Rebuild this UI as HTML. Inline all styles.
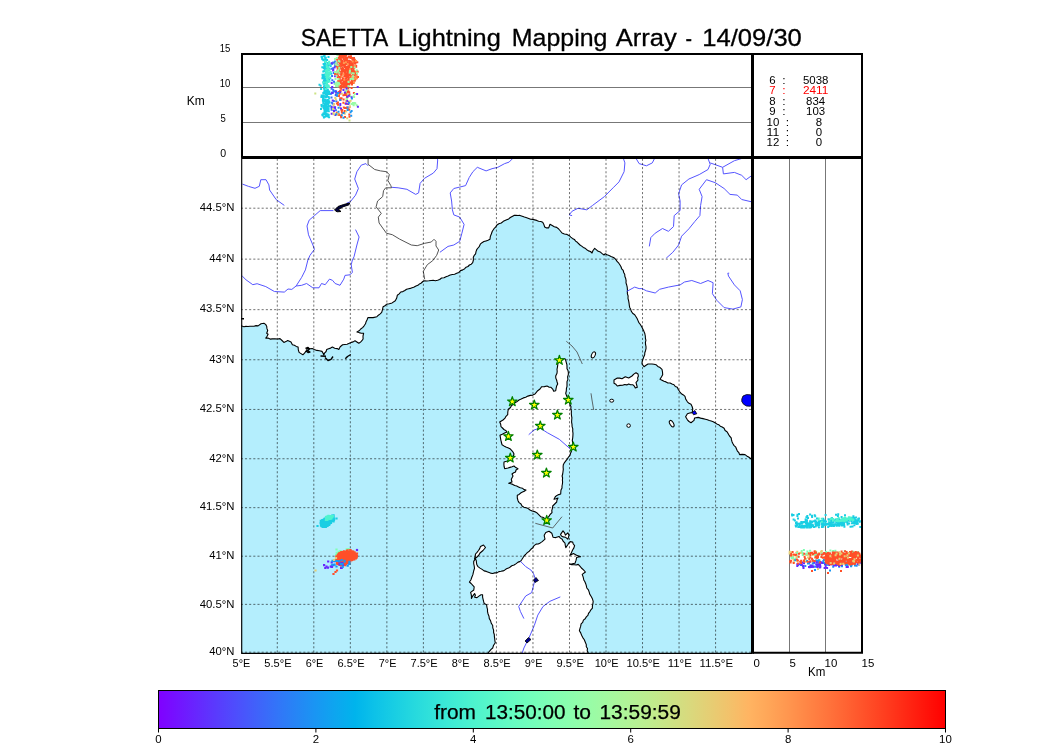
<!DOCTYPE html><html><head><meta charset="utf-8"><style>html,body{margin:0;padding:0;background:#fff;overflow:hidden}svg{display:block;will-change:transform}</style></head><body><svg width="1050" height="750" viewBox="0 0 1050 750"><text x="300.85" y="46.00" font-size="23.9" fill="#000" stroke="#000" stroke-width="0.3" font-family="Liberation Sans, sans-serif" textLength="87.31" lengthAdjust="spacingAndGlyphs">SAETTA</text><text x="397.85" y="46.00" font-size="23.9" fill="#000" stroke="#000" stroke-width="0.3" font-family="Liberation Sans, sans-serif" textLength="103.00" lengthAdjust="spacingAndGlyphs">Lightning</text><text x="511.85" y="46.00" font-size="23.9" fill="#000" stroke="#000" stroke-width="0.3" font-family="Liberation Sans, sans-serif" textLength="95.60" lengthAdjust="spacingAndGlyphs">Mapping</text><text x="615.85" y="46.00" font-size="23.9" fill="#000" stroke="#000" stroke-width="0.3" font-family="Liberation Sans, sans-serif" textLength="61.00" lengthAdjust="spacingAndGlyphs">Array</text><text x="685.55" y="46.00" font-size="23.9" fill="#000" stroke="#000" stroke-width="0.3" font-family="Liberation Sans, sans-serif" textLength="6.50" lengthAdjust="spacingAndGlyphs">-</text><text x="702.35" y="46.00" font-size="23.9" fill="#000" stroke="#000" stroke-width="0.3" font-family="Liberation Sans, sans-serif" textLength="99.49" lengthAdjust="spacingAndGlyphs">14/09/30</text><svg x="241.0" y="157.0" width="511.0" height="496.4" viewBox="241.0 157.0 511.0 496.4" overflow="hidden"><rect x="241.0" y="157.0" width="511.0" height="496.4" fill="#b4eefd"/><polygon points="241.0,325.7 243.9,326.7 245.9,326.4 248.0,326.5 250.0,326.2 252.0,326.3 254.0,326.2 256.0,325.6 258.1,325.9 261.0,323.8 263.9,323.3 265.6,324.4 266.7,326.2 266.9,328.4 267.7,330.5 266.7,333.3 268.1,334.3 267.1,336.3 265.8,338.1 268.0,338.1 270.1,339.1 272.4,338.9 274.9,338.8 277.5,339.0 280.0,338.6 282.0,340.5 283.9,342.4 285.9,341.6 287.7,340.5 291.0,341.9 292.4,344.8 294.4,345.3 296.2,346.4 298.1,347.1 298.3,349.8 299.1,352.4 301.0,353.6 302.9,354.8 304.5,353.2 305.8,351.4 307.7,348.1 309.9,348.7 312.2,348.6 314.3,349.5 316.8,350.4 319.4,350.8 322.0,351.4 323.1,353.2 323.9,355.2 324.5,353.1 326.1,351.5 326.7,349.5 328.6,348.7 330.6,348.1 332.4,347.1 334.7,348.2 337.2,348.6 338.8,349.5 340.2,346.7 342.6,344.8 344.9,344.5 347.1,344.2 349.3,343.3 351.2,342.4 353.2,341.9 355.0,340.8 356.9,342.0 358.8,343.3 360.5,342.1 361.9,340.7 363.1,339.0 363.0,336.1 363.6,333.3 361.3,333.2 359.1,332.6 356.9,331.9 359.1,330.8 360.7,329.0 362.6,327.6 364.1,325.8 365.5,323.8 366.1,321.7 367.1,319.7 367.9,317.6 370.5,317.5 373.1,317.6 376.9,316.7 378.4,315.2 380.2,313.9 381.7,312.4 382.5,309.6 383.1,306.7 385.0,305.8 386.4,304.3 389.3,303.8 392.1,302.9 395.3,300.7 396.7,298.1 397.3,295.3 399.2,293.9 400.7,292.0 402.9,291.6 404.8,290.5 406.6,289.2 408.7,288.7 411.2,288.1 413.7,287.3 416.0,286.0 417.9,285.3 419.5,283.9 421.3,283.0 422.8,281.5 424.7,280.7 426.8,281.0 428.9,280.8 431.1,280.5 433.2,280.3 435.3,280.7 437.6,280.2 439.7,279.5 441.6,278.0 444.0,277.8 446.0,276.7 448.1,275.9 450.2,275.0 452.4,274.5 454.6,274.2 456.7,273.3 458.9,272.4 460.5,270.6 462.8,269.9 464.7,268.7 466.1,267.2 468.0,266.5 469.4,265.0 471.3,264.2 472.7,262.7 473.4,260.0 473.3,257.3 474.2,255.4 475.6,253.8 476.0,251.6 476.7,249.7 478.0,248.0 479.4,246.3 480.3,244.2 482.0,242.7 483.9,241.6 486.0,240.9 488.0,240.2 490.0,239.3 490.3,236.6 491.3,234.0 492.3,231.2 494.0,228.7 495.6,227.2 496.7,225.3 498.8,223.8 501.3,223.0 503.3,221.3 506.7,219.7 508.7,218.9 510.3,217.5 512.2,216.4 514.0,215.4 516.0,215.4 518.0,215.5 520.0,215.4 522.2,216.2 524.4,217.0 526.7,217.7 528.7,218.4 530.6,219.2 532.7,219.4 534.7,219.9 536.7,220.4 538.6,221.3 540.8,221.5 542.7,222.3 543.9,224.6 544.7,227.0 546.6,227.9 548.7,227.9 550.0,224.3 552.2,225.5 554.3,226.7 556.7,227.4 558.7,229.0 560.4,231.0 562.0,233.0 564.4,234.0 567.0,234.4 569.3,235.7 570.8,237.1 572.4,238.4 574.4,239.4 575.6,241.1 577.3,242.3 580.0,245.0 581.7,246.1 583.3,247.4 585.2,248.3 586.8,249.7 588.5,250.9 590.5,251.5 592.0,253.0 593.0,250.5 594.7,248.3 596.5,249.8 598.2,251.3 600.4,252.1 602.2,253.6 604.0,255.0 605.3,253.7 607.1,254.7 609.1,255.4 611.0,256.4 612.9,257.2 614.7,258.3 616.1,259.9 617.3,261.7 618.8,263.2 620.0,265.0 621.0,266.8 621.7,268.8 623.2,270.4 623.7,272.5 624.7,274.3 624.9,276.5 625.7,278.5 626.1,280.7 626.0,282.9 626.7,285.0 627.2,287.2 627.4,289.4 627.4,291.6 627.4,293.9 628.1,296.0 628.0,298.3 628.6,300.6 629.0,302.9 629.3,305.3 629.7,307.4 630.7,309.3 631.3,311.3 632.6,313.3 634.7,314.7 636.0,316.7 637.1,318.5 637.9,320.4 638.7,322.3 640.0,324.0 641.4,326.3 642.7,328.7 643.8,331.1 644.8,333.5 645.3,336.0 645.4,338.1 645.9,340.3 645.4,342.4 645.6,344.6 646.0,346.7 646.0,348.7 645.5,350.7 644.8,352.7 644.7,354.7 643.6,357.3 642.7,360.0 642.1,362.0 642.0,364.0 644.0,366.7 646.0,365.3 648.0,364.0 650.0,364.0 652.0,364.0 654.0,364.3 656.0,364.7 657.8,366.4 660.1,367.6 662.0,369.3 662.5,372.0 662.7,374.7 661.4,377.0 660.0,379.3 662.0,380.2 664.0,381.3 666.0,381.9 667.9,383.0 670.1,383.0 672.0,384.0 674.0,384.7 675.3,386.5 677.3,387.3 678.4,389.8 680.0,392.0 681.4,393.8 683.4,394.9 685.0,396.4 685.8,399.3 687.4,401.8 689.0,403.3 691.0,404.2 692.1,406.5 692.8,409.0 692.2,412.6 689.7,413.0 687.4,413.8 685.6,416.8 687.4,419.8 689.0,421.5 691.0,422.8 694.0,420.4 694.6,418.0 698.2,417.4 700.6,418.1 703.0,418.6 705.4,419.2 707.4,419.7 709.3,420.5 711.2,421.1 713.2,421.7 715.0,422.8 716.8,423.9 718.7,424.7 720.3,426.2 722.2,427.0 724.1,428.3 725.1,430.5 727.0,431.8 728.3,433.9 729.5,436.0 731.2,437.8 731.5,439.9 732.1,441.9 733.0,443.8 734.1,445.6 735.8,447.2 736.6,449.2 737.4,451.1 738.9,452.7 739.6,454.6 742.3,454.4 745.0,454.6 746.7,455.9 748.6,457.0 750.3,458.3 752.0,459.6 754.0,459.5 756.0,460.0 758.0,459.7 760.0,459.6 759.9,457.6 759.8,455.6 760.3,453.6 760.0,451.6 760.3,449.5 759.9,447.5 759.7,445.5 760.0,443.5 760.3,441.5 759.7,439.5 760.3,437.5 760.4,435.5 760.3,433.5 760.3,431.5 759.6,429.4 760.1,427.4 760.3,425.4 759.6,423.4 759.8,421.4 759.8,419.4 760.0,417.4 759.9,415.4 760.0,413.4 760.2,411.4 759.6,409.3 759.6,407.3 759.7,405.3 759.7,403.3 759.6,401.3 760.4,399.3 760.3,397.3 759.6,395.3 760.0,393.3 759.8,391.2 759.8,389.2 759.9,387.2 760.1,385.2 760.1,383.2 759.9,381.2 759.7,379.2 759.8,377.2 759.7,375.2 760.0,373.2 760.2,371.1 759.9,369.1 759.6,367.1 759.7,365.1 759.9,363.1 760.1,361.1 760.3,359.1 759.9,357.1 760.3,355.1 760.1,353.0 759.9,351.0 759.9,349.0 760.0,347.0 760.2,345.0 759.9,343.0 760.2,341.0 760.0,339.0 759.8,337.0 760.0,335.0 760.2,332.9 759.6,330.9 759.9,328.9 759.9,326.9 760.3,324.9 760.4,322.9 759.9,320.9 760.4,318.9 760.3,316.9 759.8,314.9 760.0,312.8 759.7,310.8 760.3,308.8 760.1,306.8 760.3,304.8 760.3,302.8 760.2,300.8 760.2,298.8 760.1,296.8 759.6,294.7 760.1,292.7 759.6,290.7 759.7,288.7 760.2,286.7 759.6,284.7 759.6,282.7 759.6,280.7 760.3,278.7 759.7,276.7 759.6,274.6 760.3,272.6 759.7,270.6 760.3,268.6 760.2,266.6 760.3,264.6 760.4,262.6 760.1,260.6 760.3,258.6 759.6,256.6 760.2,254.5 760.0,252.5 760.2,250.5 759.6,248.5 760.2,246.5 760.4,244.5 759.6,242.5 759.8,240.5 760.1,238.5 760.3,236.4 759.8,234.4 759.7,232.4 759.8,230.4 760.1,228.4 760.2,226.4 759.9,224.4 759.9,222.4 759.9,220.4 759.9,218.4 759.9,216.3 759.6,214.3 760.0,212.3 760.4,210.3 759.9,208.3 760.2,206.3 759.7,204.3 760.2,202.3 760.2,200.3 760.2,198.2 760.0,196.2 760.0,194.2 760.1,192.2 760.4,190.2 759.7,188.2 759.6,186.2 760.2,184.2 760.4,182.2 760.0,180.2 759.9,178.1 760.2,176.1 759.7,174.1 759.8,172.1 759.7,170.1 760.1,168.1 759.8,166.1 759.8,164.1 760.2,162.1 760.4,160.1 759.8,158.0 760.2,156.0 759.9,154.0 760.3,152.0 760.0,150.0 758.0,149.9 756.0,150.2 754.0,150.3 752.0,150.4 750.0,150.0 748.0,150.1 746.0,150.3 744.0,150.1 742.0,150.2 740.0,149.8 738.0,150.3 736.0,149.6 734.0,150.0 731.9,149.9 729.9,150.0 727.9,149.7 725.9,149.7 723.9,149.9 721.9,150.0 719.9,149.8 717.9,149.7 715.9,150.1 713.9,149.8 711.9,149.6 709.9,150.0 707.9,150.2 705.9,150.2 703.9,149.8 701.9,149.8 699.9,149.6 697.9,149.7 695.9,150.2 693.9,150.3 691.9,150.2 689.9,150.3 687.9,149.8 685.9,149.7 683.9,149.6 681.9,150.2 679.8,149.7 677.8,150.2 675.8,150.1 673.8,149.8 671.8,150.4 669.8,150.4 667.8,149.7 665.8,150.2 663.8,150.1 661.8,149.9 659.8,149.8 657.8,150.4 655.8,150.1 653.8,150.1 651.8,150.0 649.8,150.3 647.8,149.9 645.8,149.6 643.8,150.1 641.8,150.0 639.8,150.3 637.8,150.2 635.8,149.9 633.8,150.3 631.8,149.7 629.8,149.6 627.7,150.4 625.7,149.6 623.7,150.1 621.7,149.8 619.7,149.8 617.7,150.2 615.7,149.8 613.7,149.9 611.7,149.7 609.7,150.2 607.7,149.8 605.7,149.6 603.7,149.8 601.7,150.0 599.7,150.3 597.7,150.0 595.7,150.1 593.7,149.8 591.7,149.8 589.7,149.9 587.7,150.3 585.7,149.9 583.7,149.9 581.7,150.3 579.7,149.6 577.7,149.9 575.6,150.3 573.6,149.6 571.6,150.3 569.6,150.2 567.6,149.8 565.6,149.9 563.6,150.0 561.6,149.9 559.6,150.0 557.6,150.2 555.6,150.3 553.6,150.4 551.6,149.8 549.6,149.8 547.6,150.0 545.6,149.8 543.6,150.1 541.6,150.2 539.6,150.1 537.6,149.7 535.6,150.4 533.6,150.0 531.6,150.2 529.6,149.8 527.6,150.1 525.6,150.2 523.5,150.1 521.5,150.0 519.5,149.8 517.5,150.1 515.5,149.7 513.5,150.3 511.5,150.2 509.5,150.4 507.5,150.3 505.5,149.7 503.5,149.8 501.5,150.3 499.5,150.3 497.5,150.1 495.5,149.8 493.5,149.7 491.5,149.8 489.5,149.9 487.5,150.3 485.5,150.1 483.5,150.3 481.5,150.0 479.5,149.9 477.5,150.3 475.5,150.2 473.5,149.7 471.5,150.4 469.4,149.7 467.4,149.6 465.4,149.6 463.4,150.1 461.4,150.0 459.4,149.9 457.4,149.9 455.4,149.6 453.4,149.8 451.4,150.2 449.4,149.7 447.4,150.0 445.4,149.9 443.4,149.8 441.4,150.4 439.4,149.8 437.4,149.9 435.4,150.0 433.4,150.0 431.4,150.0 429.4,150.3 427.4,150.0 425.4,150.4 423.4,150.0 421.4,149.9 419.4,150.1 417.3,149.9 415.3,149.6 413.3,149.6 411.3,150.3 409.3,149.7 407.3,149.9 405.3,150.4 403.3,150.1 401.3,150.2 399.3,150.4 397.3,150.0 395.3,149.6 393.3,150.2 391.3,149.7 389.3,149.8 387.3,150.3 385.3,149.7 383.3,149.9 381.3,149.6 379.3,149.8 377.3,149.8 375.3,150.1 373.3,149.7 371.3,149.6 369.3,149.7 367.3,150.1 365.2,149.8 363.2,150.0 361.2,150.4 359.2,150.4 357.2,150.4 355.2,150.3 353.2,150.3 351.2,150.0 349.2,149.8 347.2,150.0 345.2,150.1 343.2,149.9 341.2,150.2 339.2,150.0 337.2,149.8 335.2,150.1 333.2,150.3 331.2,149.6 329.2,149.8 327.2,150.1 325.2,150.1 323.2,150.0 321.2,149.9 319.2,150.2 317.2,150.4 315.2,150.3 313.1,149.7 311.1,150.3 309.1,150.0 307.1,150.3 305.1,150.3 303.1,150.3 301.1,150.1 299.1,150.3 297.1,150.4 295.1,150.4 293.1,150.3 291.1,150.0 289.1,150.4 287.1,150.4 285.1,150.0 283.1,150.1 281.1,149.8 279.1,150.4 277.1,150.1 275.1,150.1 273.1,150.4 271.1,149.6 269.1,150.3 267.1,150.4 265.1,150.0 263.1,150.3 261.0,149.9 259.0,150.1 257.0,150.3 255.0,150.4 253.0,149.8 251.0,150.2 249.0,149.7 247.0,150.0 245.0,149.6 243.0,150.2 241.0,150.2 239.0,150.2 237.0,149.7 235.0,150.0 234.9,152.0 235.1,154.0 235.4,156.1 234.8,158.1 234.6,160.1 234.9,162.1 235.4,164.1 235.4,166.2 235.4,168.2 235.3,170.2 235.4,172.2 235.4,174.2 234.9,176.3 234.6,178.3 235.3,180.3 234.6,182.3 235.0,184.3 234.7,186.4 234.6,188.4 234.6,190.4 235.4,192.4 235.2,194.4 234.9,196.4 234.6,198.5 235.4,200.5 235.2,202.5 234.7,204.5 235.3,206.5 235.1,208.6 235.1,210.6 234.8,212.6 234.6,214.6 235.3,216.6 234.8,218.7 234.8,220.7 234.7,222.7 235.0,224.7 234.6,226.7 235.1,228.8 235.1,230.8 235.2,232.8 234.7,234.8 235.0,236.8 235.2,238.9 235.3,240.9 234.8,242.9 234.9,244.9 234.8,246.9 235.1,249.0 235.0,251.0 235.3,253.0 234.8,255.0 235.4,257.0 235.0,259.1 234.8,261.1 234.8,263.1 235.4,265.1 235.2,267.1 234.7,269.2 234.9,271.2 234.7,273.2 234.7,275.2 235.0,277.2 234.6,279.3 234.8,281.3 235.1,283.3 235.1,285.3 235.4,287.3 235.1,289.3 234.6,291.4 235.4,293.4 234.9,295.4 235.4,297.4 235.4,299.4 234.9,301.5 235.2,303.5 235.4,305.5 235.3,307.5 234.9,309.5 234.9,311.6 235.4,313.6 235.2,315.6 234.6,317.6 235.3,319.6 234.9,321.7 235.1,323.7 235.0,325.7 237.0,326.0 239.0,325.8" fill="#fff" stroke="#000" stroke-width="1.1" stroke-linejoin="round"/><polygon points="559.0,358.7 561.0,359.0 563.0,358.7 565.0,358.7 565.8,360.6 566.3,362.6 566.9,364.6 567.0,366.7 567.0,368.7 568.0,370.6 568.4,372.6 568.3,374.7 567.6,377.0 567.9,379.4 567.0,381.6 567.0,384.0 567.0,386.4 566.4,388.7 566.3,391.0 565.7,393.3 566.7,396.1 568.3,398.7 568.9,400.7 569.5,402.7 570.1,404.8 571.0,406.7 570.8,408.9 571.4,411.1 571.3,413.4 571.5,415.6 571.9,417.8 571.7,420.0 571.6,422.2 572.0,424.4 572.1,426.7 572.8,428.8 572.7,431.1 573.0,433.3 572.9,435.7 572.7,438.0 572.3,440.3 572.7,442.7 572.3,445.0 572.0,447.3 571.5,449.3 571.4,451.4 570.5,453.3 570.0,455.3 568.5,457.0 567.4,458.9 566.0,460.7 564.5,462.6 563.3,464.7 563.1,467.0 563.3,469.4 563.0,471.7 562.7,474.0 562.1,476.0 562.6,478.0 562.4,480.0 562.6,482.0 562.4,484.0 562.0,486.0 562.0,488.0 561.0,489.9 560.8,492.0 560.7,494.0 558.7,494.6 556.9,495.4 555.3,496.7 554.0,499.3 556.0,498.7 558.0,498.0 557.0,499.9 556.7,502.0 554.7,504.0 552.7,506.0 552.5,508.2 551.8,510.4 552.0,512.7 550.1,514.5 548.7,516.7 546.0,519.3 543.5,517.6 540.7,516.7 538.7,514.7 536.7,512.7 534.6,511.6 532.2,511.0 530.0,510.0 528.2,508.6 526.2,507.7 523.9,507.2 522.0,506.0 521.0,504.0 519.1,502.6 518.0,500.7 517.3,498.0 517.3,495.3 519.1,494.4 520.7,493.0 522.5,492.1 524.3,491.2 526.0,490.0 524.0,489.6 522.4,488.2 520.3,487.8 518.5,486.9 516.7,486.0 514.7,485.5 512.8,484.4 510.8,483.8 508.7,483.3 512.0,482.0 511.3,479.3 513.0,476.0 512.0,474.0 513.7,472.8 515.5,472.0 516.0,470.0 518.0,468.7 515.8,467.6 514.0,466.0 512.1,466.8 510.0,467.4 508.0,468.0 504.7,468.7 504.1,466.5 503.9,464.3 504.0,462.0 506.5,461.3 508.9,460.4 511.3,459.3 513.0,456.8 514.0,454.0 513.0,452.0 511.6,450.3 510.0,448.7 507.9,447.8 505.9,447.0 503.9,445.9 502.0,444.7 501.3,442.0 500.7,439.3 500.4,437.3 500.0,435.3 502.3,434.2 504.6,433.0 507.0,432.0 505.7,430.4 503.9,429.5 502.5,428.0 501.0,426.7 500.7,424.3 499.7,422.0 503.0,420.0 504.8,418.4 506.0,416.3 507.7,414.7 507.8,412.0 508.3,409.3 510.3,407.7 511.6,405.5 513.7,404.0 515.3,402.4 517.3,401.4 519.0,400.0 521.2,399.1 523.4,397.9 525.7,397.3 527.9,396.1 530.3,395.4 532.8,395.1 535.0,394.0 536.3,392.3 537.7,390.7 540.0,389.0 541.7,386.7 544.4,386.6 547.0,386.0 548.9,387.1 551.0,387.3 552.7,389.1 553.7,391.3 555.7,390.7 556.1,388.4 556.6,386.1 557.7,384.0 557.1,382.0 556.6,380.0 555.8,378.1 555.7,376.0 557.0,373.3 557.2,371.3 557.0,369.3 557.4,367.3 557.7,365.3 557.9,363.1 558.8,361.0" fill="#fff" stroke="#000" stroke-width="1.1" stroke-linejoin="round"/><polygon points="488.4,652.5 489.8,650.9 491.1,649.4 492.7,648.0 493.6,645.2 495.3,642.8 494.9,640.8 494.7,638.7 494.4,636.6 494.3,634.5 493.6,632.5 493.6,630.1 492.8,627.9 492.7,625.5 491.3,623.3 490.6,620.8 489.3,618.6 489.0,616.2 488.1,614.0 487.5,611.7 487.5,609.4 486.9,607.1 486.6,604.8 484.2,603.6 483.6,601.4 483.1,599.3 482.6,597.1 482.6,594.8 481.0,594.8 478.9,596.1 477.0,597.6 474.6,597.2 475.4,595.2 474.6,593.6 473.0,595.6 471.4,598.4 471.5,596.4 471.2,594.4 470.6,592.4 473.8,590.0 474.2,586.8 472.6,585.2 471.1,583.5 469.4,582.0 471.0,579.7 471.9,577.0 472.8,574.9 473.3,572.7 473.8,570.5 474.5,568.3 474.2,566.0 473.7,563.7 473.7,561.4 475.4,558.8 476.3,560.7 476.5,562.8 476.9,564.8 478.0,566.6 480.0,568.1 482.1,569.4 484.1,570.9 486.3,571.4 488.4,572.2 490.5,573.1 492.7,573.5 494.8,572.9 497.0,572.9 498.9,571.6 501.0,571.3 503.1,570.9 504.9,569.9 506.5,568.8 508.5,568.1 510.2,567.0 511.8,565.7 514.1,565.0 516.2,563.6 518.1,562.1 520.5,561.4 521.7,559.7 522.8,558.0 523.9,556.2 525.6,554.5 527.3,552.6 529.3,551.2 530.9,549.3 532.9,547.8 534.1,545.6 536.1,544.1 538.2,544.0 540.3,542.9 542.2,541.6 545.0,539.2 544.5,537.2 544.2,535.2 545.8,532.4 549.0,531.2 551.8,533.2 552.4,535.2 553.0,537.2 555.8,537.6 559.0,536.4 560.4,538.1 562.2,539.2 563.3,541.4 565.0,543.2 565.3,545.4 565.8,547.6 567.8,544.8 568.8,543.0 570.2,541.6 572.6,542.0 573.3,544.0 574.6,545.6 573.9,547.9 572.6,550.0 571.0,553.6 570.2,555.2 573.4,553.6 576.6,555.2 578.6,555.9 580.6,556.8 578.5,556.9 576.6,557.6 576.0,560.4 575.0,563.2 572.2,563.8 569.4,564.0 571.7,564.8 574.2,564.8 576.2,565.0 578.2,564.4 579.9,566.1 581.4,568.0 583.5,569.9 585.4,572.0 582.2,574.4 583.2,577.1 583.8,580.0 584.9,581.8 585.7,583.7 586.3,585.7 586.8,588.0 588.4,589.9 589.2,592.1 589.8,594.3 591.2,596.5 592.4,598.8 593.2,601.3 592.9,603.6 592.4,605.9 592.4,608.2 590.9,609.8 589.9,611.6 588.5,613.3 587.9,615.4 586.3,616.9 585.2,618.7 583.4,620.1 582.7,622.3 581.1,623.8 580.7,626.2 580.0,628.4 579.4,630.7 580.7,632.9 581.6,635.3 582.8,637.6 584.3,639.8 585.3,642.2 586.3,644.6 586.3,646.7 587.5,648.5 587.2,650.6 588.0,652.5 588.3,655.0 587.6,657.5 588.0,660.0 586.0,659.8 584.0,659.9 582.0,660.3 580.0,660.4 578.0,659.8 576.0,660.3 574.0,660.3 572.0,659.7 570.0,659.7 568.0,660.4 566.0,659.6 564.0,660.0 562.0,660.1 560.0,660.4 558.0,660.1 556.0,659.6 554.0,660.2 552.0,660.3 550.0,660.3 548.0,660.3 546.0,660.1 544.0,659.6 542.0,660.4 540.0,660.3 538.0,659.6 536.0,659.6 534.0,659.6 532.0,660.2 530.0,660.1 528.0,659.6 526.0,660.0 524.0,659.8 522.0,660.2 520.0,660.4 518.0,660.1 516.0,659.8 514.0,659.7 512.0,659.9 510.0,660.0 508.0,660.0 506.0,660.1 504.0,660.0 502.0,659.7 500.0,660.3 498.0,659.9 496.0,659.6 494.0,659.7 492.0,660.3 490.0,659.6 488.0,660.0 488.4,657.5 488.0,655.0" fill="#fff" stroke="#000" stroke-width="1.1" stroke-linejoin="round"/><polygon points="614.0,380.0 617.3,378.0 619.7,378.1 622.0,378.7 625.3,376.7 628.7,378.0 632.0,376.0 633.8,374.1 636.0,372.7 638.0,374.0 638.4,376.0 637.6,378.0 638.0,380.0 636.0,382.7 636.7,385.0 637.3,387.3 635.3,388.0 634.3,386.1 632.7,384.7 630.6,384.7 628.7,384.0 626.8,384.9 624.6,384.5 622.7,385.3 620.0,385.4 617.3,386.0 615.9,384.3 614.0,383.3" fill="#fff" stroke="#000" stroke-width="1.1" stroke-linejoin="round"/><polygon points="474.5,559.0 475.2,556.5 475.5,554.0 477.0,552.3 478.5,550.5 479.7,548.6 480.5,546.5 483.5,545.0 485.5,547.5 483.0,550.5 480.0,553.0 478.8,555.2 477.0,557.0" fill="#fff" stroke="#000" stroke-width="1.1" stroke-linejoin="round"/><polygon points="560.6,534.4 561.8,532.6 563.0,530.8 564.6,532.8 565.4,535.2 567.8,532.8 569.0,535.2 568.5,537.2 567.8,539.2 565.4,537.2 563.3,536.9 561.4,536.0" fill="#fff" stroke="#000" stroke-width="1.1" stroke-linejoin="round"/><ellipse cx="593.4" cy="354.9" rx="1.8" ry="3.2" transform="rotate(25 593.4 354.9)" fill="#fff" stroke="#000" stroke-width="1"/><ellipse cx="611.7" cy="400.7" rx="2" ry="1.5" fill="#fff" stroke="#000" stroke-width="1"/><ellipse cx="628.6" cy="425.6" rx="1.8" ry="1.8" fill="#fff" stroke="#000" stroke-width="1"/><ellipse cx="671.7" cy="423.7" rx="1.8" ry="3.6" transform="rotate(-30 671.7 423.7)" fill="#fff" stroke="#000" stroke-width="1"/><path d="M305.5,348.5L308,347.5L309.5,349L307.5,350.5L310,352L308,352.5L306,351M320.5,356L326,356.3M325,357.5L328,360.5L331,359.3L333,356.5M345.3,358.8L347.5,356.5L350.8,354.5M241,318.8H244" stroke="#000" stroke-width="1.4" fill="none" stroke-linejoin="round"/><path d="M242.5,184.1 L248.3,186.3 L255.0,188.3 L259.3,186.3 L260.8,179.7 L266.0,179.7 L268.9,184.9 L269.6,190.0 L276.2,199.6 L284.3,205.4M368.1,165.8 L365.9,163.6 L361.3,165.1 L356.9,171.7 L354.7,179.0 L358.4,188.5 L355.5,195.2 L350.3,201.8 L346.6,203.2M333.4,210.6 L320.2,210.6 L314.4,215.7 L309.2,220.1 L307.0,226.0 L308.5,234.8 L312.9,245.0 L314.4,249.4 L310.0,255.3 L307.9,260.0 L305.4,269.9 L301.7,277.3 L296.1,286.0M242.2,276.0 L246.0,279.8 L252.8,284.7 L257.1,283.7 L265.8,286.6 L274.4,291.5 L284.3,292.1 L288.0,289.0 L291.8,289.4 L296.1,286.0 L301.7,285.3 L306.6,283.5 L312.8,287.8 L319.0,287.8 L321.5,283.5 L325.2,284.7 L329.5,279.1 L332.6,280.4 L335.1,283.5 L340.0,285.3 L343.8,279.1 L345.0,275.4 L350.0,274.8 L352.4,272.3 L351.2,264.9 L352.4,260.0 L354.0,256.8 L356.9,245.0 L359.1,237.0 L355.5,229.6M391.5,187.3 L398.1,187.8 L406.9,189.3 L415.7,194.4 L418.6,192.9 L420.1,183.4 L424.5,178.3 L433.3,173.1 L437.0,168.7 L437.7,159.9 L437.0,158.5M439.9,252.3 L448.0,246.4 L453.8,245.0 L459.7,241.3 L461.9,233.2 L464.1,224.4 L459.7,217.1 L453.8,214.9 L452.4,209.8 L451.6,201.0 L450.2,192.9 L453.8,188.5 L459.7,187.1 L465.6,185.6 L469.2,177.5 L472.9,171.7 L477.3,167.3 L486.1,170.9 L492.0,168.7 L497.8,167.3 L504.7,163.6 L509.1,162.1 L512.7,158.5M623.4,158.5 L624.9,162.9 L624.1,171.7 L619.0,181.9 L613.1,187.8 L604.4,196.6 L592.6,205.4 L586.8,209.8 L578.0,208.3 L572.1,211.2 L569.2,214.9 L572.1,215.6M636.1,158.5 L639.1,163.6 L646.4,165.8 L652.3,162.9 L654.5,158.5M649.3,246.4 L650.8,237.6 L655.2,233.2 L662.5,228.5 L668.4,231.3 L673.5,226.6 L674.2,215.6 L680.1,210.5 L680.1,201.0 L678.6,193.7 L681.6,184.9 L688.9,179.0 L699.2,174.6 L708.0,169.5 L710.2,164.3 L708.0,158.5M666.2,258.2 L672.8,252.3 L678.6,245.0 L681.6,236.2 L688.9,228.8 L694.8,221.5 L699.9,215.6 L700.6,205.4 L702.1,196.6 L699.2,189.3 L706.5,179.7 L715.3,182.7 L724.1,188.5 L730.0,194.4 L737.3,195.1 L741.7,199.5 L751.0,201.7M710.2,162.9 L722.6,167.3 L723.4,173.9 L734.4,172.4 L741.7,175.3 L746.1,179.7 L751.0,176.1M722.6,167.3 L734.4,160.7 L741.7,158.5 L751.0,158.5M626.6,291.5 L634.7,287.1 L639.1,288.6 L642.0,288.6 L646.4,290.8 L655.2,293.0 L659.6,289.3 L668.4,287.1 L680.1,284.9 L684.5,282.0 L691.8,280.5 L700.6,283.5 L708.0,280.5 L713.1,282.7 L712.4,293.7 L716.8,300.3 L724.1,307.6 L732.9,309.1 L740.9,306.9 L742.4,299.6 L740.2,290.8 L734.4,284.9 L728.5,276.1 L727.8,273.2 L729.2,273.2M528.7,434.7 L534.0,430.0 L540.0,428.0 L547.3,432.7 L559.3,439.3 L570.0,448.7M520.5,561.4 L525.7,566.6 L530.9,570.0 L533.5,573.5 L535.2,578.7 L533.5,585.7 L531.7,592.6 L525.7,596.0 L518.7,606.5 L520.5,611.7 L523.9,618.6M560.3,596.9 L549.9,601.3 L543.0,606.5 L537.8,615.1 L534.3,625.5 L529.1,637.6 L523.9,648.0 L522.2,653.0" stroke="#5555ff" stroke-width="1" fill="none" stroke-linejoin="round"/><path d="M368.1,158.5 L368.1,164.3 L374.7,169.5 L380.5,170.9 L386.4,171.7 L389.3,174.6 L387.9,180.5 L390.8,185.6 L391.5,187.8 L385.7,187.8 L383.5,190.7 L382.7,196.6 L377.6,201.0 L376.1,206.8 L381.3,213.4 L378.3,217.1 L379.1,223.0 L386.4,233.2 L392.3,234.7 L399.6,239.1 L411.3,245.0 L417.2,245.7 L424.7,243.3 L431.3,242.0 L434.0,239.3 L436.0,241.3 L436.0,246.0 L438.7,250.0 L436.7,255.3 L432.7,260.7 L427.3,264.7 L423.3,271.3 L424.7,279.3" stroke="#555" stroke-width="1" fill="none"/><path d="M566.3,341.3 L572.0,346.0 L577.0,352.0 L582.3,364.0M591.0,393.3 L592.0,400.0 L593.7,410.0M535.3,523.3 L552.7,528.0 L562.0,516.7" stroke="#444" stroke-width="0.8" fill="none"/><polygon points="334.5,210 338,206.5 343.7,204.5 349.6,203 349,204.8 343,206.8 338.5,209.5 341,211.5 337,211.8" fill="#000040" stroke="#000" stroke-width="1"/><polygon points="741.8,399 743,396 746.5,394.6 750,394.8 753,396 753,405 750,406.2 746.5,406 743.5,404.2 741.8,401.5" fill="#0000ff" stroke="#000" stroke-width="0.8"/><polygon points="692.3,412.5 694.8,410.5 696.8,413.8 693.5,414.8" fill="#0000ff" stroke="#000" stroke-width="0.8"/><polygon points="533.5,580 536,577.5 538.5,580.5 535,582.5" fill="#00008b" stroke="#000" stroke-width="0.8"/><polygon points="525,641 528.5,637.5 531,639.5 527,643" fill="#00008b" stroke="#000" stroke-width="0.8"/><path d="M277.29,157.0V653.4M313.81,157.0V653.4M350.34,157.0V653.4M386.86,157.0V653.4M423.39,157.0V653.4M459.91,157.0V653.4M496.44,157.0V653.4M532.96,157.0V653.4M569.49,157.0V653.4M606.01,157.0V653.4M642.53,157.0V653.4M679.06,157.0V653.4M715.58,157.0V653.4" stroke="#000" stroke-opacity="0.56" stroke-width="1" stroke-dasharray="2.0833,2.0833" stroke-dashoffset="2.44" fill="none"/><path d="M241.0,652.20H752.0M241.0,604.36H752.0M241.0,556.19H752.0M241.0,507.66H752.0M241.0,458.75H752.0M241.0,409.45H752.0M241.0,359.76H752.0M241.0,309.66H752.0M241.0,259.14H752.0M241.0,208.20H752.0" stroke="#000" stroke-opacity="0.56" stroke-width="1" stroke-dasharray="2.0833,2.0833" stroke-dashoffset="0.2" fill="none"/><path d="M326.7,517.8h2.2v2.2h-2.2zM319.7,519.8h2.2v2.2h-2.2zM325.1,524.1h2.2v2.2h-2.2zM327.3,518.3h2.2v2.2h-2.2zM331.3,516.8h2.2v2.2h-2.2zM323.4,523.9h2.2v2.2h-2.2zM321.5,520.8h2.2v2.2h-2.2zM328.2,517.9h2.2v2.2h-2.2zM328.8,518.7h2.2v2.2h-2.2zM323.5,520.8h2.2v2.2h-2.2zM325.5,516.9h2.2v2.2h-2.2zM322.4,520.7h2.2v2.2h-2.2zM326.5,524.7h2.2v2.2h-2.2zM329.5,516.8h2.2v2.2h-2.2zM325.0,523.1h2.2v2.2h-2.2zM321.1,519.5h2.2v2.2h-2.2zM319.5,521.9h2.2v2.2h-2.2zM330.0,520.6h2.2v2.2h-2.2zM331.6,517.1h2.2v2.2h-2.2zM329.0,520.9h2.2v2.2h-2.2zM327.3,519.1h2.2v2.2h-2.2zM325.8,521.9h2.2v2.2h-2.2zM319.8,522.4h2.2v2.2h-2.2zM330.8,516.7h2.2v2.2h-2.2zM324.5,521.9h2.2v2.2h-2.2zM319.8,523.3h2.2v2.2h-2.2zM324.6,524.7h2.2v2.2h-2.2zM322.9,518.5h2.2v2.2h-2.2zM324.1,524.8h2.2v2.2h-2.2zM322.3,519.4h2.2v2.2h-2.2zM327.4,516.4h2.2v2.2h-2.2zM324.3,520.5h2.2v2.2h-2.2zM326.4,521.2h2.2v2.2h-2.2zM324.6,518.3h2.2v2.2h-2.2zM320.4,521.5h2.2v2.2h-2.2zM325.7,519.4h2.2v2.2h-2.2zM330.9,515.1h2.2v2.2h-2.2zM321.3,523.3h2.2v2.2h-2.2zM326.6,523.4h2.2v2.2h-2.2zM322.2,519.9h2.2v2.2h-2.2zM322.7,522.2h2.2v2.2h-2.2zM332.8,518.9h2.2v2.2h-2.2zM332.7,517.8h2.2v2.2h-2.2zM331.1,519.4h2.2v2.2h-2.2zM320.1,521.8h2.2v2.2h-2.2zM329.8,519.4h2.2v2.2h-2.2zM321.5,523.6h2.2v2.2h-2.2zM323.7,523.7h2.2v2.2h-2.2zM333.0,518.2h2.2v2.2h-2.2zM324.7,525.7h2.2v2.2h-2.2zM329.4,515.2h2.2v2.2h-2.2zM321.0,524.1h2.2v2.2h-2.2zM324.0,520.3h2.2v2.2h-2.2zM325.2,524.7h2.2v2.2h-2.2zM330.9,515.7h2.2v2.2h-2.2zM322.4,520.8h2.2v2.2h-2.2zM322.7,518.6h2.2v2.2h-2.2zM320.8,525.2h2.2v2.2h-2.2zM324.0,519.1h2.2v2.2h-2.2zM325.0,525.3h2.2v2.2h-2.2zM326.2,520.1h2.2v2.2h-2.2zM321.4,519.3h2.2v2.2h-2.2zM329.4,520.4h2.2v2.2h-2.2zM323.6,519.9h2.2v2.2h-2.2zM327.0,523.5h2.2v2.2h-2.2zM320.4,520.5h2.2v2.2h-2.2zM330.1,519.8h2.2v2.2h-2.2zM327.0,523.2h2.2v2.2h-2.2zM332.1,518.9h2.2v2.2h-2.2zM327.8,519.7h2.2v2.2h-2.2zM326.3,522.3h2.2v2.2h-2.2zM325.5,520.1h2.2v2.2h-2.2zM332.6,516.4h2.2v2.2h-2.2zM331.1,514.8h2.2v2.2h-2.2zM320.0,521.9h2.2v2.2h-2.2zM321.1,522.6h2.2v2.2h-2.2zM322.1,525.8h2.2v2.2h-2.2zM324.7,519.5h2.2v2.2h-2.2zM326.4,517.5h2.2v2.2h-2.2zM326.9,518.8h2.2v2.2h-2.2zM327.9,519.8h2.2v2.2h-2.2zM325.0,525.2h2.2v2.2h-2.2zM330.8,516.4h2.2v2.2h-2.2zM321.1,525.3h2.2v2.2h-2.2zM327.2,522.4h2.2v2.2h-2.2zM328.9,518.6h2.2v2.2h-2.2zM328.1,523.7h2.2v2.2h-2.2zM320.1,524.5h2.2v2.2h-2.2zM319.9,524.5h2.2v2.2h-2.2zM325.5,517.5h2.2v2.2h-2.2zM326.5,516.1h2.2v2.2h-2.2zM329.9,516.8h2.2v2.2h-2.2zM329.5,520.3h2.2v2.2h-2.2zM321.6,519.3h2.2v2.2h-2.2zM332.5,514.3h2.2v2.2h-2.2zM330.8,518.7h2.2v2.2h-2.2zM326.1,524.2h2.2v2.2h-2.2zM324.6,519.7h2.2v2.2h-2.2zM323.9,524.1h2.2v2.2h-2.2zM329.1,521.5h2.2v2.2h-2.2zM324.8,517.6h2.2v2.2h-2.2zM319.9,522.9h2.2v2.2h-2.2zM320.1,524.3h2.2v2.2h-2.2zM323.1,519.1h2.2v2.2h-2.2zM321.2,518.9h2.2v2.2h-2.2zM322.7,525.9h2.2v2.2h-2.2zM322.4,525.9h2.2v2.2h-2.2zM323.4,517.7h2.2v2.2h-2.2zM325.8,519.7h2.2v2.2h-2.2zM321.8,519.7h2.2v2.2h-2.2zM327.4,520.0h2.2v2.2h-2.2zM329.8,521.8h2.2v2.2h-2.2zM324.5,517.3h2.2v2.2h-2.2zM329.4,521.6h2.2v2.2h-2.2zM320.9,520.0h2.2v2.2h-2.2zM326.2,524.2h2.2v2.2h-2.2zM328.8,522.3h2.2v2.2h-2.2zM320.4,524.2h2.2v2.2h-2.2zM327.0,521.4h2.2v2.2h-2.2zM328.0,522.1h2.2v2.2h-2.2zM326.2,520.1h2.2v2.2h-2.2zM329.6,516.3h2.2v2.2h-2.2zM329.5,515.7h2.2v2.2h-2.2zM326.1,518.1h2.2v2.2h-2.2zM325.8,522.1h2.2v2.2h-2.2zM330.0,521.2h2.2v2.2h-2.2zM329.7,517.0h2.2v2.2h-2.2zM328.6,522.2h2.2v2.2h-2.2zM328.7,516.8h2.2v2.2h-2.2zM326.4,519.2h2.2v2.2h-2.2zM331.9,515.6h2.2v2.2h-2.2zM321.9,525.7h2.2v2.2h-2.2zM322.0,520.7h2.2v2.2h-2.2zM321.0,520.0h2.2v2.2h-2.2zM330.8,519.8h2.2v2.2h-2.2zM322.3,525.0h2.2v2.2h-2.2zM325.4,517.0h2.2v2.2h-2.2zM323.5,524.2h2.2v2.2h-2.2zM331.1,514.5h2.2v2.2h-2.2zM332.0,516.8h2.2v2.2h-2.2zM324.3,518.2h2.2v2.2h-2.2zM324.1,518.7h2.2v2.2h-2.2zM320.4,524.2h2.2v2.2h-2.2zM323.0,525.5h2.2v2.2h-2.2zM324.3,525.8h2.2v2.2h-2.2zM332.5,520.3h2.2v2.2h-2.2zM329.5,519.0h2.2v2.2h-2.2zM329.8,521.6h2.2v2.2h-2.2zM332.3,514.6h2.2v2.2h-2.2zM325.7,517.5h2.2v2.2h-2.2zM323.2,522.9h2.2v2.2h-2.2zM328.4,517.0h2.2v2.2h-2.2zM327.0,518.2h2.2v2.2h-2.2zM321.9,525.1h2.2v2.2h-2.2zM329.8,518.5h2.2v2.2h-2.2zM324.9,520.0h2.2v2.2h-2.2zM324.4,517.5h2.2v2.2h-2.2zM326.2,521.4h2.2v2.2h-2.2zM331.4,515.8h2.2v2.2h-2.2zM324.7,518.9h2.2v2.2h-2.2z" fill="#19cee3"/><path d="M331.0,516.3h2.2v2.2h-2.2zM326.4,518.5h2.2v2.2h-2.2zM331.7,515.1h2.2v2.2h-2.2zM327.6,517.3h2.2v2.2h-2.2zM328.7,517.7h2.2v2.2h-2.2zM327.0,516.7h2.2v2.2h-2.2zM325.0,518.5h2.2v2.2h-2.2zM328.7,515.4h2.2v2.2h-2.2zM328.6,517.4h2.2v2.2h-2.2zM327.6,516.8h2.2v2.2h-2.2zM325.6,516.2h2.2v2.2h-2.2zM330.9,516.3h2.2v2.2h-2.2zM327.4,517.3h2.2v2.2h-2.2zM326.7,515.2h2.2v2.2h-2.2zM325.9,516.0h2.2v2.2h-2.2zM329.0,514.9h2.2v2.2h-2.2zM330.1,517.6h2.2v2.2h-2.2zM327.4,514.9h2.2v2.2h-2.2zM330.3,515.1h2.2v2.2h-2.2zM324.9,517.7h2.2v2.2h-2.2zM325.6,518.7h2.2v2.2h-2.2zM327.4,514.8h2.2v2.2h-2.2zM324.9,516.0h2.2v2.2h-2.2zM324.8,518.8h2.2v2.2h-2.2zM331.3,515.5h2.2v2.2h-2.2zM328.9,515.8h2.2v2.2h-2.2zM326.3,515.6h2.2v2.2h-2.2zM325.4,515.7h2.2v2.2h-2.2zM331.6,514.9h2.2v2.2h-2.2zM326.1,518.0h2.2v2.2h-2.2z" fill="#4df3ce"/><path d="M316.4,524.9h2.2v2.2h-2.2zM335.4,517.4h2.2v2.2h-2.2z" fill="#19cee3"/><path d="M346.4,551.4h2.2v2.2h-2.2zM335.6,551.7h2.2v2.2h-2.2zM340.1,555.3h2.2v2.2h-2.2zM337.6,550.8h2.2v2.2h-2.2zM347.5,548.1h2.2v2.2h-2.2zM340.7,554.4h2.2v2.2h-2.2zM345.6,548.2h2.2v2.2h-2.2zM335.4,548.4h2.2v2.2h-2.2zM347.8,550.0h2.2v2.2h-2.2zM345.4,555.1h2.2v2.2h-2.2zM339.6,550.1h2.2v2.2h-2.2zM348.3,552.8h2.2v2.2h-2.2zM338.6,553.6h2.2v2.2h-2.2zM339.3,550.1h2.2v2.2h-2.2zM335.0,553.9h2.2v2.2h-2.2z" fill="#80ffb4"/><path d="M340.2,556.5h2.2v2.2h-2.2zM343.6,552.9h2.2v2.2h-2.2zM344.6,556.8h2.2v2.2h-2.2zM348.6,554.1h2.2v2.2h-2.2zM342.1,554.7h2.2v2.2h-2.2zM339.3,560.9h2.2v2.2h-2.2zM335.7,557.7h2.2v2.2h-2.2zM337.1,556.9h2.2v2.2h-2.2zM350.9,556.1h2.2v2.2h-2.2zM340.2,555.6h2.2v2.2h-2.2zM348.9,559.7h2.2v2.2h-2.2zM349.8,550.8h2.2v2.2h-2.2zM353.8,553.6h2.2v2.2h-2.2zM347.7,554.9h2.2v2.2h-2.2zM351.5,552.1h2.2v2.2h-2.2zM340.5,552.8h2.2v2.2h-2.2zM338.3,563.0h2.2v2.2h-2.2zM347.9,554.1h2.2v2.2h-2.2zM346.3,552.6h2.2v2.2h-2.2zM345.6,562.0h2.2v2.2h-2.2zM355.8,554.9h2.2v2.2h-2.2zM354.4,556.1h2.2v2.2h-2.2zM340.7,561.3h2.2v2.2h-2.2zM348.3,558.8h2.2v2.2h-2.2zM339.8,554.8h2.2v2.2h-2.2zM338.1,552.2h2.2v2.2h-2.2zM340.6,558.5h2.2v2.2h-2.2zM349.6,552.2h2.2v2.2h-2.2zM350.2,551.9h2.2v2.2h-2.2zM341.9,552.2h2.2v2.2h-2.2zM352.8,557.7h2.2v2.2h-2.2zM343.8,557.7h2.2v2.2h-2.2zM349.3,550.4h2.2v2.2h-2.2zM338.6,560.0h2.2v2.2h-2.2zM344.1,553.4h2.2v2.2h-2.2zM341.8,564.2h2.2v2.2h-2.2zM341.9,558.0h2.2v2.2h-2.2zM342.9,555.6h2.2v2.2h-2.2zM343.1,552.1h2.2v2.2h-2.2zM351.3,552.2h2.2v2.2h-2.2zM344.4,562.0h2.2v2.2h-2.2zM344.0,563.0h2.2v2.2h-2.2zM345.3,551.5h2.2v2.2h-2.2zM335.2,557.7h2.2v2.2h-2.2zM336.9,558.9h2.2v2.2h-2.2zM343.2,557.0h2.2v2.2h-2.2zM338.2,553.4h2.2v2.2h-2.2zM337.3,556.7h2.2v2.2h-2.2zM345.8,549.8h2.2v2.2h-2.2zM355.7,555.1h2.2v2.2h-2.2zM353.5,551.5h2.2v2.2h-2.2zM352.6,552.5h2.2v2.2h-2.2zM344.0,562.4h2.2v2.2h-2.2zM353.6,551.8h2.2v2.2h-2.2zM339.8,555.3h2.2v2.2h-2.2zM346.6,555.0h2.2v2.2h-2.2zM337.7,552.9h2.2v2.2h-2.2zM335.8,557.9h2.2v2.2h-2.2zM348.4,557.7h2.2v2.2h-2.2zM349.0,553.8h2.2v2.2h-2.2zM344.4,558.2h2.2v2.2h-2.2zM344.5,559.4h2.2v2.2h-2.2zM345.0,555.9h2.2v2.2h-2.2zM335.4,558.8h2.2v2.2h-2.2zM345.9,552.7h2.2v2.2h-2.2zM345.2,551.8h2.2v2.2h-2.2zM345.5,550.6h2.2v2.2h-2.2zM337.8,555.8h2.2v2.2h-2.2zM337.0,556.0h2.2v2.2h-2.2zM346.4,549.6h2.2v2.2h-2.2zM349.2,550.2h2.2v2.2h-2.2zM346.4,549.8h2.2v2.2h-2.2zM346.2,554.9h2.2v2.2h-2.2zM336.4,554.5h2.2v2.2h-2.2zM351.9,551.4h2.2v2.2h-2.2zM355.1,553.3h2.2v2.2h-2.2zM353.3,551.2h2.2v2.2h-2.2zM339.6,553.1h2.2v2.2h-2.2zM346.3,554.0h2.2v2.2h-2.2zM338.5,563.9h2.2v2.2h-2.2zM338.7,561.5h2.2v2.2h-2.2zM337.5,557.4h2.2v2.2h-2.2zM349.2,554.7h2.2v2.2h-2.2zM349.1,555.2h2.2v2.2h-2.2zM352.8,553.1h2.2v2.2h-2.2zM343.0,561.1h2.2v2.2h-2.2zM344.9,551.7h2.2v2.2h-2.2zM353.3,553.0h2.2v2.2h-2.2zM348.1,559.5h2.2v2.2h-2.2zM348.8,555.8h2.2v2.2h-2.2zM337.9,552.5h2.2v2.2h-2.2zM349.6,549.3h2.2v2.2h-2.2zM337.3,554.6h2.2v2.2h-2.2zM339.9,558.2h2.2v2.2h-2.2zM348.2,552.2h2.2v2.2h-2.2zM348.9,556.5h2.2v2.2h-2.2zM340.4,551.3h2.2v2.2h-2.2zM337.1,559.1h2.2v2.2h-2.2zM343.9,553.1h2.2v2.2h-2.2zM347.6,554.5h2.2v2.2h-2.2zM349.4,556.0h2.2v2.2h-2.2zM340.5,563.4h2.2v2.2h-2.2zM335.9,557.4h2.2v2.2h-2.2zM344.0,552.7h2.2v2.2h-2.2zM336.2,561.4h2.2v2.2h-2.2zM335.2,557.7h2.2v2.2h-2.2zM339.4,558.6h2.2v2.2h-2.2zM346.3,559.2h2.2v2.2h-2.2zM353.2,551.7h2.2v2.2h-2.2zM341.9,553.7h2.2v2.2h-2.2zM351.7,556.3h2.2v2.2h-2.2zM351.6,556.1h2.2v2.2h-2.2zM342.4,560.9h2.2v2.2h-2.2zM350.9,553.2h2.2v2.2h-2.2zM347.4,555.9h2.2v2.2h-2.2zM352.6,557.3h2.2v2.2h-2.2zM340.9,559.2h2.2v2.2h-2.2zM340.8,552.7h2.2v2.2h-2.2zM351.7,554.1h2.2v2.2h-2.2zM354.7,554.2h2.2v2.2h-2.2zM340.3,563.4h2.2v2.2h-2.2zM349.1,560.0h2.2v2.2h-2.2zM345.5,562.3h2.2v2.2h-2.2zM344.7,560.5h2.2v2.2h-2.2zM347.7,553.8h2.2v2.2h-2.2zM339.7,558.9h2.2v2.2h-2.2zM342.7,551.2h2.2v2.2h-2.2zM350.5,559.0h2.2v2.2h-2.2zM336.4,558.3h2.2v2.2h-2.2zM343.1,562.0h2.2v2.2h-2.2zM336.4,562.8h2.2v2.2h-2.2zM349.1,553.5h2.2v2.2h-2.2zM351.9,552.2h2.2v2.2h-2.2zM342.1,555.7h2.2v2.2h-2.2zM341.3,560.4h2.2v2.2h-2.2zM343.2,554.0h2.2v2.2h-2.2zM335.6,555.5h2.2v2.2h-2.2zM344.7,561.3h2.2v2.2h-2.2zM342.7,560.2h2.2v2.2h-2.2zM347.0,552.4h2.2v2.2h-2.2zM353.3,551.6h2.2v2.2h-2.2zM346.0,561.6h2.2v2.2h-2.2zM339.1,556.8h2.2v2.2h-2.2zM342.7,562.2h2.2v2.2h-2.2zM340.8,564.0h2.2v2.2h-2.2zM341.3,552.3h2.2v2.2h-2.2zM350.6,556.9h2.2v2.2h-2.2zM337.4,559.1h2.2v2.2h-2.2zM336.7,561.5h2.2v2.2h-2.2zM349.0,554.6h2.2v2.2h-2.2zM343.9,555.2h2.2v2.2h-2.2zM339.5,553.1h2.2v2.2h-2.2zM355.2,556.9h2.2v2.2h-2.2zM343.4,563.0h2.2v2.2h-2.2zM340.2,556.3h2.2v2.2h-2.2zM346.9,561.0h2.2v2.2h-2.2zM342.7,554.1h2.2v2.2h-2.2zM338.4,562.4h2.2v2.2h-2.2zM338.7,555.9h2.2v2.2h-2.2zM352.3,558.2h2.2v2.2h-2.2zM337.7,556.3h2.2v2.2h-2.2zM354.8,552.7h2.2v2.2h-2.2zM339.2,553.7h2.2v2.2h-2.2zM340.5,554.1h2.2v2.2h-2.2zM346.6,551.5h2.2v2.2h-2.2zM342.3,551.9h2.2v2.2h-2.2zM337.2,555.0h2.2v2.2h-2.2zM351.4,555.9h2.2v2.2h-2.2zM339.3,559.1h2.2v2.2h-2.2zM343.9,561.6h2.2v2.2h-2.2zM350.5,556.9h2.2v2.2h-2.2zM349.1,556.3h2.2v2.2h-2.2zM338.1,558.6h2.2v2.2h-2.2zM344.0,560.8h2.2v2.2h-2.2zM355.3,555.8h2.2v2.2h-2.2zM347.8,560.9h2.2v2.2h-2.2zM344.4,552.6h2.2v2.2h-2.2zM349.3,556.2h2.2v2.2h-2.2zM341.9,559.0h2.2v2.2h-2.2zM337.1,555.6h2.2v2.2h-2.2zM349.1,552.9h2.2v2.2h-2.2zM344.4,556.2h2.2v2.2h-2.2zM348.9,555.4h2.2v2.2h-2.2zM339.0,559.4h2.2v2.2h-2.2zM352.4,555.1h2.2v2.2h-2.2zM335.8,557.6h2.2v2.2h-2.2zM338.5,561.4h2.2v2.2h-2.2zM337.2,558.1h2.2v2.2h-2.2zM347.1,560.4h2.2v2.2h-2.2zM346.4,559.1h2.2v2.2h-2.2zM353.6,557.2h2.2v2.2h-2.2zM344.1,564.1h2.2v2.2h-2.2zM339.6,559.8h2.2v2.2h-2.2zM343.7,561.1h2.2v2.2h-2.2zM341.1,555.3h2.2v2.2h-2.2zM335.2,555.6h2.2v2.2h-2.2zM344.4,560.1h2.2v2.2h-2.2zM342.8,553.1h2.2v2.2h-2.2zM339.9,560.8h2.2v2.2h-2.2zM339.8,561.7h2.2v2.2h-2.2zM343.7,552.3h2.2v2.2h-2.2zM337.8,561.3h2.2v2.2h-2.2zM345.5,557.9h2.2v2.2h-2.2zM340.0,564.3h2.2v2.2h-2.2zM342.8,559.1h2.2v2.2h-2.2zM345.4,553.6h2.2v2.2h-2.2zM347.2,550.9h2.2v2.2h-2.2zM353.7,554.6h2.2v2.2h-2.2zM354.0,553.2h2.2v2.2h-2.2zM343.4,553.0h2.2v2.2h-2.2zM344.5,551.9h2.2v2.2h-2.2zM341.2,552.8h2.2v2.2h-2.2zM341.7,556.6h2.2v2.2h-2.2zM344.5,559.1h2.2v2.2h-2.2zM349.7,554.7h2.2v2.2h-2.2zM336.2,562.1h2.2v2.2h-2.2zM338.1,562.2h2.2v2.2h-2.2zM349.1,549.1h2.2v2.2h-2.2zM349.7,552.9h2.2v2.2h-2.2zM340.2,561.3h2.2v2.2h-2.2zM342.7,551.3h2.2v2.2h-2.2zM338.7,563.2h2.2v2.2h-2.2zM339.3,560.0h2.2v2.2h-2.2zM346.8,560.8h2.2v2.2h-2.2zM344.8,563.0h2.2v2.2h-2.2zM347.4,553.1h2.2v2.2h-2.2zM340.2,551.1h2.2v2.2h-2.2zM346.0,549.8h2.2v2.2h-2.2zM345.4,551.2h2.2v2.2h-2.2zM346.0,556.9h2.2v2.2h-2.2zM345.4,557.9h2.2v2.2h-2.2zM343.3,555.6h2.2v2.2h-2.2zM349.2,559.1h2.2v2.2h-2.2zM335.5,558.7h2.2v2.2h-2.2zM346.4,556.7h2.2v2.2h-2.2zM351.1,558.9h2.2v2.2h-2.2zM342.5,562.7h2.2v2.2h-2.2zM343.1,556.5h2.2v2.2h-2.2zM346.7,561.2h2.2v2.2h-2.2zM339.6,555.9h2.2v2.2h-2.2zM344.4,557.8h2.2v2.2h-2.2zM353.5,553.6h2.2v2.2h-2.2zM353.5,555.4h2.2v2.2h-2.2zM346.2,553.2h2.2v2.2h-2.2zM342.3,554.0h2.2v2.2h-2.2zM341.6,558.3h2.2v2.2h-2.2zM335.8,560.5h2.2v2.2h-2.2zM348.8,558.9h2.2v2.2h-2.2zM350.6,558.4h2.2v2.2h-2.2zM350.2,552.3h2.2v2.2h-2.2zM349.9,556.2h2.2v2.2h-2.2zM352.1,550.5h2.2v2.2h-2.2zM349.7,554.8h2.2v2.2h-2.2zM347.5,553.0h2.2v2.2h-2.2zM341.7,555.6h2.2v2.2h-2.2zM342.1,555.8h2.2v2.2h-2.2zM336.1,558.0h2.2v2.2h-2.2zM353.1,558.1h2.2v2.2h-2.2zM355.6,556.0h2.2v2.2h-2.2zM344.2,550.5h2.2v2.2h-2.2zM349.4,552.3h2.2v2.2h-2.2zM336.9,562.8h2.2v2.2h-2.2zM351.1,552.8h2.2v2.2h-2.2zM351.4,551.9h2.2v2.2h-2.2zM336.0,561.3h2.2v2.2h-2.2zM351.3,550.2h2.2v2.2h-2.2zM349.0,560.2h2.2v2.2h-2.2zM340.6,564.3h2.2v2.2h-2.2zM341.9,560.6h2.2v2.2h-2.2zM338.6,562.7h2.2v2.2h-2.2zM345.8,549.9h2.2v2.2h-2.2zM343.2,558.1h2.2v2.2h-2.2zM344.8,559.7h2.2v2.2h-2.2zM338.2,561.7h2.2v2.2h-2.2zM343.1,559.2h2.2v2.2h-2.2zM349.1,555.6h2.2v2.2h-2.2zM343.6,561.5h2.2v2.2h-2.2zM347.7,553.6h2.2v2.2h-2.2zM342.4,558.6h2.2v2.2h-2.2zM348.4,553.8h2.2v2.2h-2.2zM344.5,563.1h2.2v2.2h-2.2zM343.4,559.9h2.2v2.2h-2.2zM353.1,553.4h2.2v2.2h-2.2zM344.4,558.3h2.2v2.2h-2.2zM335.9,562.2h2.2v2.2h-2.2zM347.8,553.3h2.2v2.2h-2.2zM342.7,550.3h2.2v2.2h-2.2zM347.4,561.7h2.2v2.2h-2.2zM339.4,560.9h2.2v2.2h-2.2zM355.9,552.6h2.2v2.2h-2.2zM348.6,559.7h2.2v2.2h-2.2zM345.4,552.2h2.2v2.2h-2.2zM340.6,560.9h2.2v2.2h-2.2zM352.7,556.3h2.2v2.2h-2.2zM336.9,561.8h2.2v2.2h-2.2zM352.3,552.6h2.2v2.2h-2.2zM354.8,557.2h2.2v2.2h-2.2zM345.6,558.3h2.2v2.2h-2.2zM339.2,552.0h2.2v2.2h-2.2zM339.0,560.1h2.2v2.2h-2.2zM343.1,557.9h2.2v2.2h-2.2zM344.0,557.2h2.2v2.2h-2.2zM337.3,559.0h2.2v2.2h-2.2zM352.6,551.4h2.2v2.2h-2.2zM348.3,554.4h2.2v2.2h-2.2zM346.6,549.2h2.2v2.2h-2.2zM354.4,556.7h2.2v2.2h-2.2zM347.7,553.1h2.2v2.2h-2.2zM352.4,555.7h2.2v2.2h-2.2zM339.4,551.8h2.2v2.2h-2.2zM348.4,555.3h2.2v2.2h-2.2zM340.7,557.9h2.2v2.2h-2.2zM350.0,555.2h2.2v2.2h-2.2zM345.0,551.5h2.2v2.2h-2.2zM340.7,554.5h2.2v2.2h-2.2zM350.1,553.7h2.2v2.2h-2.2zM348.2,561.0h2.2v2.2h-2.2zM337.3,554.1h2.2v2.2h-2.2zM340.7,550.9h2.2v2.2h-2.2zM345.7,551.6h2.2v2.2h-2.2zM340.3,551.2h2.2v2.2h-2.2zM351.0,552.0h2.2v2.2h-2.2zM339.9,563.8h2.2v2.2h-2.2zM338.0,556.1h2.2v2.2h-2.2zM345.1,554.3h2.2v2.2h-2.2zM353.4,556.5h2.2v2.2h-2.2zM349.0,551.2h2.2v2.2h-2.2zM351.0,557.8h2.2v2.2h-2.2zM338.2,562.8h2.2v2.2h-2.2zM340.9,555.5h2.2v2.2h-2.2zM338.4,553.2h2.2v2.2h-2.2zM353.8,554.3h2.2v2.2h-2.2zM338.7,556.8h2.2v2.2h-2.2zM342.1,563.4h2.2v2.2h-2.2zM349.9,552.3h2.2v2.2h-2.2zM345.6,553.5h2.2v2.2h-2.2zM340.7,552.1h2.2v2.2h-2.2zM337.1,553.5h2.2v2.2h-2.2zM351.2,553.6h2.2v2.2h-2.2zM353.1,554.4h2.2v2.2h-2.2zM353.6,557.3h2.2v2.2h-2.2zM339.1,555.9h2.2v2.2h-2.2zM355.4,552.4h2.2v2.2h-2.2zM347.8,551.1h2.2v2.2h-2.2zM339.0,561.2h2.2v2.2h-2.2zM350.9,552.0h2.2v2.2h-2.2zM348.6,556.8h2.2v2.2h-2.2zM341.1,552.2h2.2v2.2h-2.2zM348.7,560.2h2.2v2.2h-2.2zM353.2,558.2h2.2v2.2h-2.2z" fill="#ff4f28"/><path d="M327.1,560.4h2.2v2.2h-2.2zM338.3,563.2h2.2v2.2h-2.2zM338.1,560.3h2.2v2.2h-2.2zM339.9,562.6h2.2v2.2h-2.2zM340.6,566.8h2.2v2.2h-2.2zM333.3,560.0h2.2v2.2h-2.2zM342.0,563.7h2.2v2.2h-2.2zM341.2,562.0h2.2v2.2h-2.2zM326.8,566.6h2.2v2.2h-2.2zM330.6,561.2h2.2v2.2h-2.2zM330.7,564.7h2.2v2.2h-2.2zM323.0,564.1h2.2v2.2h-2.2zM332.3,564.0h2.2v2.2h-2.2zM325.4,565.6h2.2v2.2h-2.2zM340.0,566.8h2.2v2.2h-2.2zM329.6,565.6h2.2v2.2h-2.2zM330.9,565.9h2.2v2.2h-2.2zM324.2,566.9h2.2v2.2h-2.2z" fill="#6628fe"/><path d="M348.1,562.9h2.2v2.2h-2.2zM340.1,563.1h2.2v2.2h-2.2zM340.6,559.1h2.2v2.2h-2.2zM348.3,560.7h2.2v2.2h-2.2zM334.2,559.7h2.2v2.2h-2.2zM335.4,565.4h2.2v2.2h-2.2zM331.4,559.7h2.2v2.2h-2.2zM343.5,560.5h2.2v2.2h-2.2zM331.2,563.7h2.2v2.2h-2.2zM341.3,563.1h2.2v2.2h-2.2zM343.5,559.7h2.2v2.2h-2.2zM346.6,564.6h2.2v2.2h-2.2zM331.7,559.9h2.2v2.2h-2.2zM339.8,562.9h2.2v2.2h-2.2zM335.9,559.9h2.2v2.2h-2.2zM338.2,560.0h2.2v2.2h-2.2zM341.6,565.8h2.2v2.2h-2.2zM333.5,563.5h2.2v2.2h-2.2z" fill="#1996f3"/><path d="M314.4,569.4h2.2v2.2h-2.2zM332.9,558.9h2.2v2.2h-2.2zM334.9,556.9h2.2v2.2h-2.2z" fill="#e5ce74"/><path d="M332.4,572.9h2.2v2.2h-2.2zM334.4,570.9h2.2v2.2h-2.2zM335.9,569.4h2.2v2.2h-2.2z" fill="#ff4f28"/><path d="M355.9,548.9h2.2v2.2h-2.2z" fill="#6628fe"/><polygon points="559.40,355.30 560.52,358.75 564.16,358.75 561.22,360.89 562.34,364.35 559.40,362.21 556.46,364.35 557.58,360.89 554.64,358.75 558.28,358.75" fill="#ffff00" stroke="#008000" stroke-width="1.2" stroke-linejoin="round"/><polygon points="512.30,396.60 513.42,400.05 517.06,400.05 514.12,402.19 515.24,405.65 512.30,403.51 509.36,405.65 510.48,402.19 507.54,400.05 511.18,400.05" fill="#ffff00" stroke="#008000" stroke-width="1.2" stroke-linejoin="round"/><polygon points="534.30,400.00 535.42,403.45 539.06,403.45 536.12,405.59 537.24,409.05 534.30,406.91 531.36,409.05 532.48,405.59 529.54,403.45 533.18,403.45" fill="#ffff00" stroke="#008000" stroke-width="1.2" stroke-linejoin="round"/><polygon points="568.30,395.00 569.42,398.45 573.06,398.45 570.12,400.59 571.24,404.05 568.30,401.91 565.36,404.05 566.48,400.59 563.54,398.45 567.18,398.45" fill="#ffff00" stroke="#008000" stroke-width="1.2" stroke-linejoin="round"/><polygon points="557.40,410.00 558.52,413.45 562.16,413.45 559.22,415.59 560.34,419.05 557.40,416.91 554.46,419.05 555.58,415.59 552.64,413.45 556.28,413.45" fill="#ffff00" stroke="#008000" stroke-width="1.2" stroke-linejoin="round"/><polygon points="540.30,421.00 541.42,424.45 545.06,424.45 542.12,426.59 543.24,430.05 540.30,427.91 537.36,430.05 538.48,426.59 535.54,424.45 539.18,424.45" fill="#ffff00" stroke="#008000" stroke-width="1.2" stroke-linejoin="round"/><polygon points="508.40,431.40 509.52,434.85 513.16,434.85 510.22,436.99 511.34,440.45 508.40,438.31 505.46,440.45 506.58,436.99 503.64,434.85 507.28,434.85" fill="#ffff00" stroke="#008000" stroke-width="1.2" stroke-linejoin="round"/><polygon points="510.30,453.00 511.42,456.45 515.06,456.45 512.12,458.59 513.24,462.05 510.30,459.91 507.36,462.05 508.48,458.59 505.54,456.45 509.18,456.45" fill="#ffff00" stroke="#008000" stroke-width="1.2" stroke-linejoin="round"/><polygon points="537.30,450.00 538.42,453.45 542.06,453.45 539.12,455.59 540.24,459.05 537.30,456.91 534.36,459.05 535.48,455.59 532.54,453.45 536.18,453.45" fill="#ffff00" stroke="#008000" stroke-width="1.2" stroke-linejoin="round"/><polygon points="546.40,468.00 547.52,471.45 551.16,471.45 548.22,473.59 549.34,477.05 546.40,474.91 543.46,477.05 544.58,473.59 541.64,471.45 545.28,471.45" fill="#ffff00" stroke="#008000" stroke-width="1.2" stroke-linejoin="round"/><polygon points="573.30,442.00 574.42,445.45 578.06,445.45 575.12,447.59 576.24,451.05 573.30,448.91 570.36,451.05 571.48,447.59 568.54,445.45 572.18,445.45" fill="#ffff00" stroke="#008000" stroke-width="1.2" stroke-linejoin="round"/><polygon points="546.70,515.40 547.82,518.85 551.46,518.85 548.52,520.99 549.64,524.45 546.70,522.31 543.76,524.45 544.88,520.99 541.94,518.85 545.58,518.85" fill="#ffff00" stroke="#008000" stroke-width="1.2" stroke-linejoin="round"/></svg><path d="M241.7,157V653.35H752" stroke="#000" stroke-width="1.15" fill="none"/><text x="234.50" y="654.50" font-size="10" text-anchor="end" fill="#000" font-family="Liberation Sans, sans-serif" textLength="25.21" lengthAdjust="spacingAndGlyphs">40°N</text><text x="234.50" y="607.70" font-size="10" text-anchor="end" fill="#000" font-family="Liberation Sans, sans-serif" textLength="34.75" lengthAdjust="spacingAndGlyphs">40.5°N</text><text x="234.50" y="559.00" font-size="10" text-anchor="end" fill="#000" font-family="Liberation Sans, sans-serif" textLength="25.21" lengthAdjust="spacingAndGlyphs">41°N</text><text x="234.50" y="509.80" font-size="10" text-anchor="end" fill="#000" font-family="Liberation Sans, sans-serif" textLength="34.75" lengthAdjust="spacingAndGlyphs">41.5°N</text><text x="234.50" y="462.20" font-size="10" text-anchor="end" fill="#000" font-family="Liberation Sans, sans-serif" textLength="25.21" lengthAdjust="spacingAndGlyphs">42°N</text><text x="234.50" y="411.80" font-size="10" text-anchor="end" fill="#000" font-family="Liberation Sans, sans-serif" textLength="34.75" lengthAdjust="spacingAndGlyphs">42.5°N</text><text x="234.50" y="363.00" font-size="10" text-anchor="end" fill="#000" font-family="Liberation Sans, sans-serif" textLength="25.21" lengthAdjust="spacingAndGlyphs">43°N</text><text x="234.50" y="311.50" font-size="10" text-anchor="end" fill="#000" font-family="Liberation Sans, sans-serif" textLength="34.75" lengthAdjust="spacingAndGlyphs">43.5°N</text><text x="234.50" y="261.50" font-size="10" text-anchor="end" fill="#000" font-family="Liberation Sans, sans-serif" textLength="25.21" lengthAdjust="spacingAndGlyphs">44°N</text><text x="234.50" y="210.70" font-size="10" text-anchor="end" fill="#000" font-family="Liberation Sans, sans-serif" textLength="34.75" lengthAdjust="spacingAndGlyphs">44.5°N</text><text x="241.46" y="667.20" font-size="10" text-anchor="middle" fill="#000" font-family="Liberation Sans, sans-serif" textLength="17.68" lengthAdjust="spacingAndGlyphs">5°E</text><text x="277.99" y="667.20" font-size="10" text-anchor="middle" fill="#000" font-family="Liberation Sans, sans-serif" textLength="27.22" lengthAdjust="spacingAndGlyphs">5.5°E</text><text x="314.51" y="667.20" font-size="10" text-anchor="middle" fill="#000" font-family="Liberation Sans, sans-serif" textLength="17.68" lengthAdjust="spacingAndGlyphs">6°E</text><text x="351.04" y="667.20" font-size="10" text-anchor="middle" fill="#000" font-family="Liberation Sans, sans-serif" textLength="27.22" lengthAdjust="spacingAndGlyphs">6.5°E</text><text x="387.56" y="667.20" font-size="10" text-anchor="middle" fill="#000" font-family="Liberation Sans, sans-serif" textLength="17.68" lengthAdjust="spacingAndGlyphs">7°E</text><text x="424.09" y="667.20" font-size="10" text-anchor="middle" fill="#000" font-family="Liberation Sans, sans-serif" textLength="27.22" lengthAdjust="spacingAndGlyphs">7.5°E</text><text x="460.61" y="667.20" font-size="10" text-anchor="middle" fill="#000" font-family="Liberation Sans, sans-serif" textLength="17.68" lengthAdjust="spacingAndGlyphs">8°E</text><text x="497.14" y="667.20" font-size="10" text-anchor="middle" fill="#000" font-family="Liberation Sans, sans-serif" textLength="27.22" lengthAdjust="spacingAndGlyphs">8.5°E</text><text x="533.66" y="667.20" font-size="10" text-anchor="middle" fill="#000" font-family="Liberation Sans, sans-serif" textLength="17.68" lengthAdjust="spacingAndGlyphs">9°E</text><text x="570.19" y="667.20" font-size="10" text-anchor="middle" fill="#000" font-family="Liberation Sans, sans-serif" textLength="27.22" lengthAdjust="spacingAndGlyphs">9.5°E</text><text x="606.71" y="667.20" font-size="10" text-anchor="middle" fill="#000" font-family="Liberation Sans, sans-serif" textLength="24.04" lengthAdjust="spacingAndGlyphs">10°E</text><text x="643.23" y="667.20" font-size="10" text-anchor="middle" fill="#000" font-family="Liberation Sans, sans-serif" textLength="33.58" lengthAdjust="spacingAndGlyphs">10.5°E</text><text x="679.76" y="667.20" font-size="10" text-anchor="middle" fill="#000" font-family="Liberation Sans, sans-serif" textLength="24.04" lengthAdjust="spacingAndGlyphs">11°E</text><text x="716.28" y="667.20" font-size="10" text-anchor="middle" fill="#000" font-family="Liberation Sans, sans-serif" textLength="33.58" lengthAdjust="spacingAndGlyphs">11.5°E</text><path d="M242,87.5H752M242,122.5H752" stroke="#777" stroke-width="1" fill="none"/><path d="M789.5,158V653M825.5,158V653" stroke="#777" stroke-width="1" fill="none"/><svg x="242" y="55" width="510" height="101" viewBox="242 55 510 101" overflow="hidden"><path d="M324.8,106.7h2.0v2.0h-2.0zM323.4,113.0h2.0v2.0h-2.0zM323.0,107.4h2.0v2.0h-2.0zM326.3,89.7h2.0v2.0h-2.0zM320.5,103.9h2.0v2.0h-2.0zM328.1,79.1h2.0v2.0h-2.0zM324.9,84.6h2.0v2.0h-2.0zM326.9,115.4h2.0v2.0h-2.0zM326.5,106.0h2.0v2.0h-2.0zM320.0,107.9h2.0v2.0h-2.0zM327.4,114.1h2.0v2.0h-2.0zM325.7,112.8h2.0v2.0h-2.0zM324.8,95.7h2.0v2.0h-2.0zM327.2,80.6h2.0v2.0h-2.0zM323.9,84.5h2.0v2.0h-2.0zM324.6,88.5h2.0v2.0h-2.0zM326.0,114.8h2.0v2.0h-2.0zM325.0,103.9h2.0v2.0h-2.0zM327.8,105.7h2.0v2.0h-2.0zM323.5,110.0h2.0v2.0h-2.0zM325.3,96.2h2.0v2.0h-2.0zM324.4,75.0h2.0v2.0h-2.0zM324.0,90.6h2.0v2.0h-2.0zM323.1,112.2h2.0v2.0h-2.0zM323.5,89.4h2.0v2.0h-2.0zM323.6,84.5h2.0v2.0h-2.0zM326.6,77.3h2.0v2.0h-2.0zM324.2,96.6h2.0v2.0h-2.0zM327.0,114.0h2.0v2.0h-2.0zM326.9,89.0h2.0v2.0h-2.0zM324.5,90.2h2.0v2.0h-2.0zM327.4,68.4h2.0v2.0h-2.0zM325.7,76.6h2.0v2.0h-2.0zM325.7,83.0h2.0v2.0h-2.0zM324.4,65.0h2.0v2.0h-2.0zM326.5,90.9h2.0v2.0h-2.0zM326.5,92.2h2.0v2.0h-2.0zM322.1,96.7h2.0v2.0h-2.0zM325.9,86.0h2.0v2.0h-2.0zM328.3,91.0h2.0v2.0h-2.0zM322.8,77.5h2.0v2.0h-2.0zM323.1,73.7h2.0v2.0h-2.0zM325.3,81.6h2.0v2.0h-2.0zM327.5,93.1h2.0v2.0h-2.0zM326.9,108.7h2.0v2.0h-2.0zM325.0,73.5h2.0v2.0h-2.0zM322.3,76.1h2.0v2.0h-2.0zM323.9,115.8h2.0v2.0h-2.0zM323.7,69.0h2.0v2.0h-2.0zM328.6,63.8h2.0v2.0h-2.0zM326.5,63.5h2.0v2.0h-2.0zM323.0,81.9h2.0v2.0h-2.0zM321.3,66.2h2.0v2.0h-2.0zM326.2,72.7h2.0v2.0h-2.0zM328.4,68.7h2.0v2.0h-2.0zM323.8,79.0h2.0v2.0h-2.0zM322.7,94.8h2.0v2.0h-2.0zM327.6,108.0h2.0v2.0h-2.0zM326.0,101.7h2.0v2.0h-2.0zM322.3,102.0h2.0v2.0h-2.0zM325.0,104.3h2.0v2.0h-2.0zM322.2,100.0h2.0v2.0h-2.0zM325.8,109.2h2.0v2.0h-2.0zM324.2,60.2h2.0v2.0h-2.0zM325.1,88.1h2.0v2.0h-2.0zM321.8,114.4h2.0v2.0h-2.0zM322.6,104.3h2.0v2.0h-2.0zM323.8,109.3h2.0v2.0h-2.0zM323.0,85.6h2.0v2.0h-2.0zM323.4,85.9h2.0v2.0h-2.0zM324.5,82.1h2.0v2.0h-2.0zM322.9,91.4h2.0v2.0h-2.0zM323.3,104.5h2.0v2.0h-2.0zM326.1,108.0h2.0v2.0h-2.0zM322.3,70.4h2.0v2.0h-2.0zM324.8,77.2h2.0v2.0h-2.0zM326.6,92.9h2.0v2.0h-2.0zM327.2,65.0h2.0v2.0h-2.0zM326.6,107.7h2.0v2.0h-2.0zM323.8,107.4h2.0v2.0h-2.0zM326.3,84.1h2.0v2.0h-2.0zM324.4,111.4h2.0v2.0h-2.0zM325.5,91.9h2.0v2.0h-2.0zM324.8,88.1h2.0v2.0h-2.0zM328.3,90.4h2.0v2.0h-2.0zM322.9,116.4h2.0v2.0h-2.0zM322.0,98.7h2.0v2.0h-2.0zM324.5,82.0h2.0v2.0h-2.0zM322.9,79.8h2.0v2.0h-2.0zM327.2,113.6h2.0v2.0h-2.0zM323.5,65.6h2.0v2.0h-2.0zM322.3,81.2h2.0v2.0h-2.0zM322.4,92.4h2.0v2.0h-2.0zM326.5,109.7h2.0v2.0h-2.0zM327.4,84.9h2.0v2.0h-2.0zM324.2,95.3h2.0v2.0h-2.0zM326.9,90.0h2.0v2.0h-2.0zM324.7,106.1h2.0v2.0h-2.0zM325.8,115.3h2.0v2.0h-2.0zM326.6,106.7h2.0v2.0h-2.0zM323.7,110.5h2.0v2.0h-2.0zM324.7,99.0h2.0v2.0h-2.0zM327.8,110.2h2.0v2.0h-2.0zM318.5,83.8h2.0v2.0h-2.0zM325.9,88.9h2.0v2.0h-2.0zM326.4,88.5h2.0v2.0h-2.0zM325.4,95.6h2.0v2.0h-2.0zM326.2,94.1h2.0v2.0h-2.0zM320.4,96.0h2.0v2.0h-2.0zM330.6,62.4h2.0v2.0h-2.0zM321.4,77.3h2.0v2.0h-2.0zM326.9,99.0h2.0v2.0h-2.0zM326.8,107.6h2.0v2.0h-2.0zM324.8,93.1h2.0v2.0h-2.0zM324.1,88.1h2.0v2.0h-2.0zM323.5,91.3h2.0v2.0h-2.0zM324.5,90.0h2.0v2.0h-2.0zM328.1,116.3h2.0v2.0h-2.0zM322.7,66.9h2.0v2.0h-2.0zM323.7,68.9h2.0v2.0h-2.0zM324.9,65.7h2.0v2.0h-2.0zM323.7,69.6h2.0v2.0h-2.0zM320.6,94.6h2.0v2.0h-2.0zM324.2,105.6h2.0v2.0h-2.0zM325.1,103.5h2.0v2.0h-2.0zM324.9,78.2h2.0v2.0h-2.0zM324.3,69.6h2.0v2.0h-2.0zM322.7,75.1h2.0v2.0h-2.0zM328.8,92.9h2.0v2.0h-2.0zM327.7,79.7h2.0v2.0h-2.0zM322.6,63.1h2.0v2.0h-2.0zM325.5,110.3h2.0v2.0h-2.0zM319.7,84.8h2.0v2.0h-2.0zM321.9,95.0h2.0v2.0h-2.0zM324.8,112.6h2.0v2.0h-2.0zM325.5,108.3h2.0v2.0h-2.0zM322.9,106.1h2.0v2.0h-2.0zM329.3,77.2h2.0v2.0h-2.0zM320.1,88.0h2.0v2.0h-2.0zM321.3,113.7h2.0v2.0h-2.0zM324.9,100.6h2.0v2.0h-2.0zM327.1,72.5h2.0v2.0h-2.0zM323.1,87.4h2.0v2.0h-2.0zM329.2,104.8h2.0v2.0h-2.0zM324.9,80.2h2.0v2.0h-2.0zM326.2,70.5h2.0v2.0h-2.0zM326.7,91.7h2.0v2.0h-2.0zM324.5,66.5h2.0v2.0h-2.0zM322.6,82.8h2.0v2.0h-2.0zM324.3,63.7h2.0v2.0h-2.0zM327.9,79.8h2.0v2.0h-2.0zM327.8,73.8h2.0v2.0h-2.0zM325.5,73.4h2.0v2.0h-2.0zM326.6,62.0h2.0v2.0h-2.0zM323.7,68.8h2.0v2.0h-2.0zM323.0,99.9h2.0v2.0h-2.0zM326.3,107.2h2.0v2.0h-2.0zM325.8,67.2h2.0v2.0h-2.0zM320.7,105.5h2.0v2.0h-2.0zM326.3,69.0h2.0v2.0h-2.0zM322.6,81.3h2.0v2.0h-2.0zM327.7,114.1h2.0v2.0h-2.0zM326.3,88.5h2.0v2.0h-2.0zM330.3,72.8h2.0v2.0h-2.0zM323.6,99.9h2.0v2.0h-2.0zM325.2,74.7h2.0v2.0h-2.0zM327.3,80.8h2.0v2.0h-2.0zM323.0,73.9h2.0v2.0h-2.0zM323.6,109.3h2.0v2.0h-2.0zM323.8,66.9h2.0v2.0h-2.0zM321.9,75.3h2.0v2.0h-2.0zM324.6,103.6h2.0v2.0h-2.0zM322.3,92.1h2.0v2.0h-2.0zM327.0,77.6h2.0v2.0h-2.0zM324.0,70.0h2.0v2.0h-2.0zM325.4,108.1h2.0v2.0h-2.0zM323.3,66.2h2.0v2.0h-2.0zM327.9,91.8h2.0v2.0h-2.0zM323.1,76.8h2.0v2.0h-2.0zM326.9,63.7h2.0v2.0h-2.0zM324.2,67.1h2.0v2.0h-2.0zM326.3,100.5h2.0v2.0h-2.0zM324.3,111.4h2.0v2.0h-2.0zM327.1,103.8h2.0v2.0h-2.0zM328.2,67.5h2.0v2.0h-2.0zM321.7,75.6h2.0v2.0h-2.0zM328.2,97.5h2.0v2.0h-2.0zM325.4,79.9h2.0v2.0h-2.0zM321.9,99.5h2.0v2.0h-2.0zM326.6,74.0h2.0v2.0h-2.0zM326.0,95.5h2.0v2.0h-2.0zM323.0,70.3h2.0v2.0h-2.0zM328.6,101.5h2.0v2.0h-2.0zM328.2,100.3h2.0v2.0h-2.0zM325.4,69.2h2.0v2.0h-2.0zM325.0,71.2h2.0v2.0h-2.0zM324.1,62.2h2.0v2.0h-2.0zM326.9,77.6h2.0v2.0h-2.0zM323.9,107.4h2.0v2.0h-2.0zM323.7,92.2h2.0v2.0h-2.0zM324.4,84.6h2.0v2.0h-2.0zM323.1,98.7h2.0v2.0h-2.0zM324.7,107.1h2.0v2.0h-2.0zM324.9,103.9h2.0v2.0h-2.0zM324.6,108.3h2.0v2.0h-2.0zM325.5,94.3h2.0v2.0h-2.0zM326.4,66.3h2.0v2.0h-2.0zM325.3,104.7h2.0v2.0h-2.0zM326.1,102.3h2.0v2.0h-2.0zM329.7,64.9h2.0v2.0h-2.0zM324.0,102.2h2.0v2.0h-2.0zM322.6,106.8h2.0v2.0h-2.0zM324.6,113.5h2.0v2.0h-2.0zM325.8,84.0h2.0v2.0h-2.0zM328.0,101.7h2.0v2.0h-2.0zM323.3,106.9h2.0v2.0h-2.0zM323.0,63.1h2.0v2.0h-2.0zM323.0,99.5h2.0v2.0h-2.0zM322.3,112.4h2.0v2.0h-2.0zM326.0,67.2h2.0v2.0h-2.0zM324.9,99.7h2.0v2.0h-2.0zM324.1,105.5h2.0v2.0h-2.0zM324.6,114.8h2.0v2.0h-2.0zM327.7,96.0h2.0v2.0h-2.0zM323.1,63.4h2.0v2.0h-2.0zM324.3,80.2h2.0v2.0h-2.0zM323.5,77.5h2.0v2.0h-2.0zM325.6,67.7h2.0v2.0h-2.0zM323.9,73.4h2.0v2.0h-2.0zM321.5,73.7h2.0v2.0h-2.0z" fill="#19cee3"/><path d="M324.1,56.7h2.0v2.0h-2.0zM327.5,56.1h2.0v2.0h-2.0zM322.4,59.3h2.0v2.0h-2.0zM321.1,57.4h2.0v2.0h-2.0zM322.7,58.9h2.0v2.0h-2.0zM324.4,58.6h2.0v2.0h-2.0zM321.4,58.0h2.0v2.0h-2.0zM324.8,56.8h2.0v2.0h-2.0zM326.1,59.0h2.0v2.0h-2.0zM320.9,55.7h2.0v2.0h-2.0zM322.9,55.2h2.0v2.0h-2.0zM320.5,55.7h2.0v2.0h-2.0zM321.6,58.2h2.0v2.0h-2.0zM323.6,54.7h2.0v2.0h-2.0z" fill="#19cee3"/><path d="M325.7,82.0h2.0v2.0h-2.0zM325.9,77.7h2.0v2.0h-2.0zM326.7,74.5h2.0v2.0h-2.0zM329.0,73.3h2.0v2.0h-2.0zM328.6,80.4h2.0v2.0h-2.0zM328.4,72.7h2.0v2.0h-2.0zM327.8,79.9h2.0v2.0h-2.0zM325.6,76.1h2.0v2.0h-2.0zM326.3,73.7h2.0v2.0h-2.0zM328.4,68.4h2.0v2.0h-2.0zM324.1,60.5h2.0v2.0h-2.0zM325.8,69.0h2.0v2.0h-2.0zM326.5,78.4h2.0v2.0h-2.0zM329.0,76.4h2.0v2.0h-2.0zM327.2,68.3h2.0v2.0h-2.0zM327.3,84.5h2.0v2.0h-2.0zM327.8,86.2h2.0v2.0h-2.0zM327.7,62.5h2.0v2.0h-2.0zM326.1,78.5h2.0v2.0h-2.0zM327.1,67.7h2.0v2.0h-2.0zM325.2,81.4h2.0v2.0h-2.0zM324.6,85.1h2.0v2.0h-2.0zM326.5,76.3h2.0v2.0h-2.0zM324.6,69.4h2.0v2.0h-2.0zM327.5,62.7h2.0v2.0h-2.0zM329.5,63.2h2.0v2.0h-2.0zM324.7,74.3h2.0v2.0h-2.0zM327.2,79.6h2.0v2.0h-2.0zM326.0,72.4h2.0v2.0h-2.0zM326.2,69.6h2.0v2.0h-2.0zM322.8,81.4h2.0v2.0h-2.0zM326.9,75.2h2.0v2.0h-2.0zM325.6,75.9h2.0v2.0h-2.0zM326.5,73.4h2.0v2.0h-2.0zM328.1,60.8h2.0v2.0h-2.0zM326.9,65.8h2.0v2.0h-2.0zM326.0,85.5h2.0v2.0h-2.0zM324.9,73.2h2.0v2.0h-2.0zM325.6,81.3h2.0v2.0h-2.0zM325.1,61.1h2.0v2.0h-2.0zM327.2,71.3h2.0v2.0h-2.0zM326.0,82.3h2.0v2.0h-2.0zM325.2,71.1h2.0v2.0h-2.0zM326.7,77.2h2.0v2.0h-2.0zM325.8,82.0h2.0v2.0h-2.0zM329.7,70.9h2.0v2.0h-2.0zM328.5,71.4h2.0v2.0h-2.0zM326.7,71.4h2.0v2.0h-2.0zM325.6,64.2h2.0v2.0h-2.0zM325.9,84.0h2.0v2.0h-2.0zM328.1,71.3h2.0v2.0h-2.0zM325.7,68.6h2.0v2.0h-2.0zM324.8,87.9h2.0v2.0h-2.0zM327.5,74.9h2.0v2.0h-2.0zM325.8,66.1h2.0v2.0h-2.0z" fill="#4df3ce"/><path d="M330.5,96.6h2.0v2.0h-2.0zM332.0,91.8h2.0v2.0h-2.0zM332.2,88.8h2.0v2.0h-2.0zM333.0,80.8h2.0v2.0h-2.0zM330.6,67.8h2.0v2.0h-2.0zM334.7,89.9h2.0v2.0h-2.0zM330.6,108.7h2.0v2.0h-2.0zM331.3,62.7h2.0v2.0h-2.0zM332.8,72.1h2.0v2.0h-2.0zM332.6,90.2h2.0v2.0h-2.0zM331.2,91.4h2.0v2.0h-2.0zM330.6,87.8h2.0v2.0h-2.0zM333.1,61.8h2.0v2.0h-2.0zM332.2,61.4h2.0v2.0h-2.0zM332.3,108.8h2.0v2.0h-2.0zM332.9,99.9h2.0v2.0h-2.0zM334.0,63.9h2.0v2.0h-2.0zM335.3,100.3h2.0v2.0h-2.0zM330.5,106.8h2.0v2.0h-2.0zM332.1,67.3h2.0v2.0h-2.0zM335.1,90.8h2.0v2.0h-2.0zM334.1,65.2h2.0v2.0h-2.0zM334.1,60.5h2.0v2.0h-2.0zM331.3,79.3h2.0v2.0h-2.0zM330.1,92.7h2.0v2.0h-2.0zM331.1,75.0h2.0v2.0h-2.0zM333.7,82.6h2.0v2.0h-2.0zM334.7,94.3h2.0v2.0h-2.0zM334.6,90.8h2.0v2.0h-2.0zM334.9,109.2h2.0v2.0h-2.0zM330.9,101.7h2.0v2.0h-2.0zM331.8,102.8h2.0v2.0h-2.0z" fill="#3374f8"/><path d="M334.1,107.2h2.0v2.0h-2.0zM330.7,81.9h2.0v2.0h-2.0zM334.4,114.1h2.0v2.0h-2.0zM334.3,63.4h2.0v2.0h-2.0zM333.6,66.6h2.0v2.0h-2.0zM333.3,106.0h2.0v2.0h-2.0zM330.7,112.8h2.0v2.0h-2.0zM334.1,75.3h2.0v2.0h-2.0zM331.2,86.0h2.0v2.0h-2.0zM335.0,93.6h2.0v2.0h-2.0zM330.7,62.2h2.0v2.0h-2.0zM330.7,105.8h2.0v2.0h-2.0zM331.1,92.0h2.0v2.0h-2.0zM331.7,99.5h2.0v2.0h-2.0zM332.3,69.1h2.0v2.0h-2.0zM335.3,91.2h2.0v2.0h-2.0zM334.1,106.3h2.0v2.0h-2.0zM335.7,61.8h2.0v2.0h-2.0zM332.1,69.5h2.0v2.0h-2.0zM333.0,109.9h2.0v2.0h-2.0z" fill="#6628fe"/><path d="M339.3,80.2h2.0v2.0h-2.0zM349.8,66.6h2.0v2.0h-2.0zM345.5,59.1h2.0v2.0h-2.0zM353.2,66.6h2.0v2.0h-2.0zM353.8,73.5h2.0v2.0h-2.0zM337.1,64.5h2.0v2.0h-2.0zM340.0,82.6h2.0v2.0h-2.0zM347.9,55.4h2.0v2.0h-2.0zM339.1,65.6h2.0v2.0h-2.0zM345.3,72.5h2.0v2.0h-2.0zM343.6,65.3h2.0v2.0h-2.0zM342.5,54.7h2.0v2.0h-2.0zM336.5,58.7h2.0v2.0h-2.0zM349.6,62.7h2.0v2.0h-2.0zM341.2,70.0h2.0v2.0h-2.0zM341.0,72.2h2.0v2.0h-2.0zM346.6,84.6h2.0v2.0h-2.0zM347.3,78.7h2.0v2.0h-2.0zM353.8,78.8h2.0v2.0h-2.0zM348.8,74.3h2.0v2.0h-2.0zM343.1,63.0h2.0v2.0h-2.0zM352.2,81.9h2.0v2.0h-2.0zM355.2,75.8h2.0v2.0h-2.0zM341.9,78.4h2.0v2.0h-2.0zM351.0,70.3h2.0v2.0h-2.0zM348.8,65.2h2.0v2.0h-2.0zM347.1,67.0h2.0v2.0h-2.0zM336.8,64.8h2.0v2.0h-2.0zM342.3,85.6h2.0v2.0h-2.0zM345.6,65.8h2.0v2.0h-2.0zM340.6,61.5h2.0v2.0h-2.0zM342.8,58.3h2.0v2.0h-2.0zM345.0,68.3h2.0v2.0h-2.0zM347.4,63.7h2.0v2.0h-2.0zM339.0,56.1h2.0v2.0h-2.0zM341.8,63.9h2.0v2.0h-2.0zM350.8,71.6h2.0v2.0h-2.0zM355.2,64.9h2.0v2.0h-2.0zM354.8,72.7h2.0v2.0h-2.0zM337.2,59.7h2.0v2.0h-2.0zM343.0,78.8h2.0v2.0h-2.0zM344.5,81.8h2.0v2.0h-2.0zM336.9,69.5h2.0v2.0h-2.0zM354.4,62.8h2.0v2.0h-2.0zM340.9,54.7h2.0v2.0h-2.0zM339.0,62.6h2.0v2.0h-2.0zM350.3,61.0h2.0v2.0h-2.0zM343.9,60.4h2.0v2.0h-2.0zM348.2,81.7h2.0v2.0h-2.0zM349.1,60.3h2.0v2.0h-2.0zM348.1,56.5h2.0v2.0h-2.0zM352.5,82.0h2.0v2.0h-2.0zM342.7,58.4h2.0v2.0h-2.0zM339.5,71.2h2.0v2.0h-2.0zM353.9,74.5h2.0v2.0h-2.0zM354.9,60.8h2.0v2.0h-2.0zM342.4,78.0h2.0v2.0h-2.0zM349.1,67.0h2.0v2.0h-2.0zM349.8,64.8h2.0v2.0h-2.0zM336.7,67.3h2.0v2.0h-2.0zM336.5,74.0h2.0v2.0h-2.0zM342.5,69.8h2.0v2.0h-2.0zM348.1,62.2h2.0v2.0h-2.0zM345.2,54.4h2.0v2.0h-2.0zM354.9,72.1h2.0v2.0h-2.0zM348.4,77.2h2.0v2.0h-2.0zM342.4,57.0h2.0v2.0h-2.0zM338.8,58.6h2.0v2.0h-2.0zM351.6,56.9h2.0v2.0h-2.0zM352.6,67.5h2.0v2.0h-2.0zM346.8,72.8h2.0v2.0h-2.0zM347.2,75.0h2.0v2.0h-2.0zM348.1,64.6h2.0v2.0h-2.0zM351.1,62.3h2.0v2.0h-2.0zM350.4,78.4h2.0v2.0h-2.0zM351.8,63.9h2.0v2.0h-2.0zM345.0,62.9h2.0v2.0h-2.0zM346.5,84.1h2.0v2.0h-2.0zM338.3,54.3h2.0v2.0h-2.0zM345.5,75.0h2.0v2.0h-2.0zM351.8,65.6h2.0v2.0h-2.0zM356.3,61.3h2.0v2.0h-2.0zM351.4,56.9h2.0v2.0h-2.0zM336.1,58.3h2.0v2.0h-2.0zM336.8,70.1h2.0v2.0h-2.0zM347.2,59.8h2.0v2.0h-2.0zM355.2,65.7h2.0v2.0h-2.0zM338.6,59.7h2.0v2.0h-2.0zM351.0,83.5h2.0v2.0h-2.0zM338.9,54.9h2.0v2.0h-2.0zM351.8,61.8h2.0v2.0h-2.0zM356.1,70.0h2.0v2.0h-2.0zM348.9,65.0h2.0v2.0h-2.0zM352.3,68.7h2.0v2.0h-2.0zM342.3,82.9h2.0v2.0h-2.0zM337.8,77.5h2.0v2.0h-2.0zM336.9,74.7h2.0v2.0h-2.0zM343.9,81.6h2.0v2.0h-2.0zM336.8,72.1h2.0v2.0h-2.0zM344.1,83.4h2.0v2.0h-2.0zM355.3,74.1h2.0v2.0h-2.0zM340.2,62.1h2.0v2.0h-2.0zM341.0,67.9h2.0v2.0h-2.0zM340.4,60.5h2.0v2.0h-2.0zM351.4,74.6h2.0v2.0h-2.0zM341.8,85.8h2.0v2.0h-2.0zM340.0,72.2h2.0v2.0h-2.0zM338.8,81.6h2.0v2.0h-2.0zM353.8,62.6h2.0v2.0h-2.0zM351.3,80.3h2.0v2.0h-2.0zM341.4,64.6h2.0v2.0h-2.0zM345.7,82.5h2.0v2.0h-2.0zM338.9,75.8h2.0v2.0h-2.0zM348.0,68.5h2.0v2.0h-2.0zM347.7,82.3h2.0v2.0h-2.0zM339.9,82.3h2.0v2.0h-2.0zM343.1,79.0h2.0v2.0h-2.0zM353.6,59.8h2.0v2.0h-2.0zM341.7,54.8h2.0v2.0h-2.0zM337.8,85.2h2.0v2.0h-2.0zM338.7,77.6h2.0v2.0h-2.0zM337.5,59.4h2.0v2.0h-2.0zM349.8,56.9h2.0v2.0h-2.0zM342.6,83.4h2.0v2.0h-2.0zM350.5,82.2h2.0v2.0h-2.0zM340.4,79.3h2.0v2.0h-2.0zM350.0,55.2h2.0v2.0h-2.0zM346.1,61.4h2.0v2.0h-2.0zM344.5,57.4h2.0v2.0h-2.0zM342.1,82.1h2.0v2.0h-2.0zM338.0,69.6h2.0v2.0h-2.0zM338.4,67.7h2.0v2.0h-2.0zM339.3,75.9h2.0v2.0h-2.0zM338.6,77.6h2.0v2.0h-2.0zM346.0,57.6h2.0v2.0h-2.0zM342.9,69.9h2.0v2.0h-2.0zM354.8,65.2h2.0v2.0h-2.0zM340.0,85.0h2.0v2.0h-2.0zM354.0,77.4h2.0v2.0h-2.0zM341.2,59.7h2.0v2.0h-2.0zM341.1,56.2h2.0v2.0h-2.0zM336.4,70.3h2.0v2.0h-2.0zM344.1,71.8h2.0v2.0h-2.0zM343.1,54.3h2.0v2.0h-2.0zM350.0,74.9h2.0v2.0h-2.0zM346.9,71.6h2.0v2.0h-2.0zM353.9,77.0h2.0v2.0h-2.0zM343.9,64.2h2.0v2.0h-2.0zM344.3,85.1h2.0v2.0h-2.0zM343.6,66.3h2.0v2.0h-2.0zM344.1,58.6h2.0v2.0h-2.0zM348.3,83.6h2.0v2.0h-2.0zM340.8,73.5h2.0v2.0h-2.0zM343.4,61.7h2.0v2.0h-2.0zM339.7,57.7h2.0v2.0h-2.0zM353.2,79.1h2.0v2.0h-2.0zM350.1,64.4h2.0v2.0h-2.0zM349.1,71.6h2.0v2.0h-2.0zM342.1,85.1h2.0v2.0h-2.0zM353.4,70.3h2.0v2.0h-2.0zM340.4,74.1h2.0v2.0h-2.0zM351.1,66.1h2.0v2.0h-2.0zM350.5,66.6h2.0v2.0h-2.0zM346.6,73.6h2.0v2.0h-2.0zM349.7,64.3h2.0v2.0h-2.0zM348.7,71.4h2.0v2.0h-2.0zM340.2,73.6h2.0v2.0h-2.0zM341.1,83.1h2.0v2.0h-2.0zM345.4,77.1h2.0v2.0h-2.0zM346.5,69.3h2.0v2.0h-2.0zM340.1,58.5h2.0v2.0h-2.0zM355.0,70.9h2.0v2.0h-2.0zM346.5,70.9h2.0v2.0h-2.0zM352.6,61.6h2.0v2.0h-2.0zM339.1,80.3h2.0v2.0h-2.0zM345.2,74.5h2.0v2.0h-2.0zM343.5,80.6h2.0v2.0h-2.0zM352.7,57.9h2.0v2.0h-2.0zM338.7,62.0h2.0v2.0h-2.0zM337.7,65.4h2.0v2.0h-2.0zM352.4,70.7h2.0v2.0h-2.0zM345.0,56.8h2.0v2.0h-2.0zM350.1,68.4h2.0v2.0h-2.0zM345.5,79.5h2.0v2.0h-2.0zM351.4,58.8h2.0v2.0h-2.0zM349.8,65.7h2.0v2.0h-2.0zM346.4,61.6h2.0v2.0h-2.0zM343.3,64.9h2.0v2.0h-2.0zM343.5,54.6h2.0v2.0h-2.0zM339.7,72.3h2.0v2.0h-2.0zM336.7,59.7h2.0v2.0h-2.0zM350.6,62.8h2.0v2.0h-2.0zM342.3,61.7h2.0v2.0h-2.0zM353.0,56.9h2.0v2.0h-2.0zM348.9,81.5h2.0v2.0h-2.0zM339.7,67.5h2.0v2.0h-2.0zM352.1,73.8h2.0v2.0h-2.0zM343.3,55.4h2.0v2.0h-2.0zM344.8,65.7h2.0v2.0h-2.0zM350.5,63.4h2.0v2.0h-2.0zM344.1,74.7h2.0v2.0h-2.0zM352.5,65.3h2.0v2.0h-2.0zM343.6,72.5h2.0v2.0h-2.0zM354.9,60.1h2.0v2.0h-2.0zM355.9,76.8h2.0v2.0h-2.0zM343.3,75.3h2.0v2.0h-2.0zM342.4,56.3h2.0v2.0h-2.0zM351.4,66.1h2.0v2.0h-2.0zM346.5,69.9h2.0v2.0h-2.0zM354.4,78.2h2.0v2.0h-2.0zM336.0,73.0h2.0v2.0h-2.0zM345.2,68.8h2.0v2.0h-2.0zM353.1,67.3h2.0v2.0h-2.0zM345.4,82.5h2.0v2.0h-2.0zM344.7,69.7h2.0v2.0h-2.0zM346.2,80.4h2.0v2.0h-2.0zM349.6,77.7h2.0v2.0h-2.0zM343.9,55.3h2.0v2.0h-2.0zM349.8,71.7h2.0v2.0h-2.0zM351.7,78.6h2.0v2.0h-2.0zM338.0,61.1h2.0v2.0h-2.0zM337.1,80.2h2.0v2.0h-2.0zM337.6,56.8h2.0v2.0h-2.0zM351.3,72.1h2.0v2.0h-2.0zM336.7,75.8h2.0v2.0h-2.0zM350.4,69.4h2.0v2.0h-2.0zM336.7,76.1h2.0v2.0h-2.0zM344.3,72.7h2.0v2.0h-2.0zM353.8,58.7h2.0v2.0h-2.0zM342.5,70.6h2.0v2.0h-2.0zM341.3,62.4h2.0v2.0h-2.0zM342.1,62.2h2.0v2.0h-2.0zM353.5,71.8h2.0v2.0h-2.0zM346.2,67.4h2.0v2.0h-2.0zM336.6,63.7h2.0v2.0h-2.0zM353.7,79.7h2.0v2.0h-2.0zM353.5,62.2h2.0v2.0h-2.0zM339.7,55.7h2.0v2.0h-2.0zM346.8,66.0h2.0v2.0h-2.0zM345.2,69.6h2.0v2.0h-2.0zM347.8,65.7h2.0v2.0h-2.0zM352.3,60.4h2.0v2.0h-2.0zM354.8,71.8h2.0v2.0h-2.0zM336.6,64.1h2.0v2.0h-2.0zM346.7,67.1h2.0v2.0h-2.0zM347.4,64.4h2.0v2.0h-2.0zM341.2,79.5h2.0v2.0h-2.0zM341.6,76.7h2.0v2.0h-2.0zM352.4,72.9h2.0v2.0h-2.0zM345.0,83.9h2.0v2.0h-2.0zM344.8,82.1h2.0v2.0h-2.0zM336.7,67.9h2.0v2.0h-2.0zM348.9,55.6h2.0v2.0h-2.0zM348.0,59.8h2.0v2.0h-2.0zM354.9,72.0h2.0v2.0h-2.0zM352.3,69.9h2.0v2.0h-2.0zM349.7,75.6h2.0v2.0h-2.0zM341.7,60.8h2.0v2.0h-2.0zM353.1,58.7h2.0v2.0h-2.0zM354.8,60.6h2.0v2.0h-2.0z" fill="#ff4f28"/><path d="M348.2,73.6h2.0v2.0h-2.0zM338.4,78.5h2.0v2.0h-2.0zM345.4,92.7h2.0v2.0h-2.0zM344.6,65.7h2.0v2.0h-2.0zM354.7,76.4h2.0v2.0h-2.0zM357.0,75.9h2.0v2.0h-2.0zM344.8,78.0h2.0v2.0h-2.0zM341.4,66.7h2.0v2.0h-2.0zM342.8,68.9h2.0v2.0h-2.0zM350.5,66.3h2.0v2.0h-2.0zM347.9,66.2h2.0v2.0h-2.0zM344.8,72.6h2.0v2.0h-2.0zM339.7,80.8h2.0v2.0h-2.0zM347.3,83.4h2.0v2.0h-2.0zM351.6,77.2h2.0v2.0h-2.0zM345.1,60.5h2.0v2.0h-2.0zM344.7,66.6h2.0v2.0h-2.0zM347.4,66.5h2.0v2.0h-2.0zM352.8,66.5h2.0v2.0h-2.0zM344.6,79.9h2.0v2.0h-2.0zM346.0,59.3h2.0v2.0h-2.0zM348.4,69.1h2.0v2.0h-2.0zM334.1,72.9h2.0v2.0h-2.0zM339.9,63.8h2.0v2.0h-2.0zM348.8,73.9h2.0v2.0h-2.0zM344.3,92.0h2.0v2.0h-2.0zM348.4,65.1h2.0v2.0h-2.0zM347.4,69.8h2.0v2.0h-2.0zM337.9,90.9h2.0v2.0h-2.0zM344.9,68.3h2.0v2.0h-2.0zM342.7,80.5h2.0v2.0h-2.0zM346.2,87.5h2.0v2.0h-2.0zM350.6,86.9h2.0v2.0h-2.0zM345.3,74.6h2.0v2.0h-2.0zM343.5,69.4h2.0v2.0h-2.0zM336.0,65.4h2.0v2.0h-2.0zM340.5,64.7h2.0v2.0h-2.0zM353.0,73.5h2.0v2.0h-2.0zM353.1,79.3h2.0v2.0h-2.0zM351.3,80.7h2.0v2.0h-2.0zM342.5,78.7h2.0v2.0h-2.0zM344.1,65.9h2.0v2.0h-2.0zM352.9,91.9h2.0v2.0h-2.0zM340.3,87.7h2.0v2.0h-2.0zM350.8,62.8h2.0v2.0h-2.0zM347.6,74.6h2.0v2.0h-2.0zM348.2,67.6h2.0v2.0h-2.0zM338.6,71.3h2.0v2.0h-2.0zM351.0,78.6h2.0v2.0h-2.0zM349.8,81.6h2.0v2.0h-2.0zM340.3,70.6h2.0v2.0h-2.0zM348.0,80.6h2.0v2.0h-2.0zM346.9,76.0h2.0v2.0h-2.0zM346.8,91.2h2.0v2.0h-2.0zM335.4,72.3h2.0v2.0h-2.0zM337.7,64.5h2.0v2.0h-2.0zM347.3,87.5h2.0v2.0h-2.0zM348.7,77.4h2.0v2.0h-2.0zM351.9,72.9h2.0v2.0h-2.0zM341.0,70.1h2.0v2.0h-2.0zM347.9,68.3h2.0v2.0h-2.0zM342.1,67.5h2.0v2.0h-2.0zM337.3,61.1h2.0v2.0h-2.0zM345.5,67.5h2.0v2.0h-2.0zM346.2,84.5h2.0v2.0h-2.0zM347.7,70.7h2.0v2.0h-2.0zM339.2,60.6h2.0v2.0h-2.0zM348.2,62.6h2.0v2.0h-2.0zM348.5,60.7h2.0v2.0h-2.0zM346.8,70.3h2.0v2.0h-2.0zM351.8,67.2h2.0v2.0h-2.0zM343.9,73.4h2.0v2.0h-2.0zM346.3,87.3h2.0v2.0h-2.0zM344.5,65.8h2.0v2.0h-2.0zM344.2,75.6h2.0v2.0h-2.0zM347.4,77.7h2.0v2.0h-2.0zM338.0,94.8h2.0v2.0h-2.0zM356.6,70.7h2.0v2.0h-2.0zM339.0,72.5h2.0v2.0h-2.0zM346.1,56.8h2.0v2.0h-2.0z" fill="#ff4f28"/><path d="M342.4,73.3h2.0v2.0h-2.0zM353.4,77.5h2.0v2.0h-2.0zM340.6,75.7h2.0v2.0h-2.0zM344.9,61.2h2.0v2.0h-2.0zM355.4,74.5h2.0v2.0h-2.0zM351.7,60.5h2.0v2.0h-2.0zM353.1,81.4h2.0v2.0h-2.0zM354.4,76.4h2.0v2.0h-2.0zM353.2,77.9h2.0v2.0h-2.0zM349.0,68.3h2.0v2.0h-2.0zM353.0,77.4h2.0v2.0h-2.0zM353.8,64.8h2.0v2.0h-2.0zM355.3,70.8h2.0v2.0h-2.0zM355.1,60.0h2.0v2.0h-2.0zM355.5,77.5h2.0v2.0h-2.0zM343.3,78.8h2.0v2.0h-2.0zM342.9,62.1h2.0v2.0h-2.0zM346.8,63.2h2.0v2.0h-2.0zM347.4,80.6h2.0v2.0h-2.0zM350.7,75.5h2.0v2.0h-2.0z" fill="#ff964f"/><path d="M335.8,81.4h2.0v2.0h-2.0zM337.6,77.9h2.0v2.0h-2.0zM338.2,82.9h2.0v2.0h-2.0zM335.8,57.0h2.0v2.0h-2.0zM336.9,83.3h2.0v2.0h-2.0zM335.5,74.8h2.0v2.0h-2.0zM337.8,81.8h2.0v2.0h-2.0zM334.0,71.1h2.0v2.0h-2.0zM334.1,57.9h2.0v2.0h-2.0zM337.7,68.7h2.0v2.0h-2.0zM336.7,70.0h2.0v2.0h-2.0zM335.5,61.5h2.0v2.0h-2.0zM335.6,83.6h2.0v2.0h-2.0zM336.8,64.2h2.0v2.0h-2.0zM334.4,63.5h2.0v2.0h-2.0zM337.2,69.5h2.0v2.0h-2.0zM337.0,82.2h2.0v2.0h-2.0zM334.5,77.9h2.0v2.0h-2.0zM334.2,82.8h2.0v2.0h-2.0zM334.8,63.5h2.0v2.0h-2.0zM338.3,66.7h2.0v2.0h-2.0zM335.0,85.1h2.0v2.0h-2.0zM336.7,85.3h2.0v2.0h-2.0zM335.8,71.5h2.0v2.0h-2.0zM338.3,71.7h2.0v2.0h-2.0zM338.4,60.6h2.0v2.0h-2.0zM337.7,59.7h2.0v2.0h-2.0zM336.4,54.0h2.0v2.0h-2.0z" fill="#99fca6"/><path d="M349.6,77.9h2.0v2.0h-2.0zM352.1,75.2h2.0v2.0h-2.0zM350.3,66.0h2.0v2.0h-2.0zM348.9,70.1h2.0v2.0h-2.0zM355.8,69.3h2.0v2.0h-2.0zM351.4,77.6h2.0v2.0h-2.0zM356.0,72.3h2.0v2.0h-2.0zM348.7,71.5h2.0v2.0h-2.0zM352.0,78.2h2.0v2.0h-2.0zM351.3,72.2h2.0v2.0h-2.0zM353.7,66.5h2.0v2.0h-2.0zM352.7,72.5h2.0v2.0h-2.0z" fill="#99fca6"/><path d="M347.7,100.9h2.0v2.0h-2.0zM340.1,116.2h2.0v2.0h-2.0zM335.8,111.7h2.0v2.0h-2.0zM344.6,102.8h2.0v2.0h-2.0zM341.3,109.0h2.0v2.0h-2.0zM347.5,108.3h2.0v2.0h-2.0zM345.5,86.1h2.0v2.0h-2.0zM339.6,89.4h2.0v2.0h-2.0zM348.3,113.5h2.0v2.0h-2.0zM337.0,103.8h2.0v2.0h-2.0zM343.1,86.5h2.0v2.0h-2.0zM340.5,108.9h2.0v2.0h-2.0zM344.0,94.0h2.0v2.0h-2.0zM345.7,94.3h2.0v2.0h-2.0zM342.6,98.5h2.0v2.0h-2.0zM348.7,105.8h2.0v2.0h-2.0zM346.3,106.6h2.0v2.0h-2.0zM340.3,115.8h2.0v2.0h-2.0zM344.9,107.1h2.0v2.0h-2.0zM338.9,90.2h2.0v2.0h-2.0zM343.1,111.4h2.0v2.0h-2.0zM346.1,96.1h2.0v2.0h-2.0zM337.0,101.5h2.0v2.0h-2.0zM347.3,90.2h2.0v2.0h-2.0zM345.3,90.5h2.0v2.0h-2.0zM339.4,86.7h2.0v2.0h-2.0zM339.2,97.3h2.0v2.0h-2.0zM348.5,115.8h2.0v2.0h-2.0zM337.6,94.9h2.0v2.0h-2.0zM348.2,91.3h2.0v2.0h-2.0zM339.5,99.0h2.0v2.0h-2.0zM336.5,93.3h2.0v2.0h-2.0zM340.5,97.3h2.0v2.0h-2.0zM348.5,93.5h2.0v2.0h-2.0zM337.9,114.1h2.0v2.0h-2.0zM341.3,111.8h2.0v2.0h-2.0zM343.9,109.9h2.0v2.0h-2.0zM339.4,89.9h2.0v2.0h-2.0zM345.6,100.0h2.0v2.0h-2.0zM342.8,106.5h2.0v2.0h-2.0zM345.5,93.8h2.0v2.0h-2.0zM340.1,114.4h2.0v2.0h-2.0zM342.4,94.2h2.0v2.0h-2.0zM343.8,93.3h2.0v2.0h-2.0zM345.8,86.3h2.0v2.0h-2.0zM346.6,103.1h2.0v2.0h-2.0zM340.0,115.1h2.0v2.0h-2.0zM338.7,92.8h2.0v2.0h-2.0zM336.0,102.6h2.0v2.0h-2.0zM345.6,106.7h2.0v2.0h-2.0zM340.8,110.8h2.0v2.0h-2.0zM336.6,94.8h2.0v2.0h-2.0zM344.0,116.0h2.0v2.0h-2.0zM343.9,107.1h2.0v2.0h-2.0zM345.8,97.6h2.0v2.0h-2.0zM348.2,108.8h2.0v2.0h-2.0zM339.8,97.6h2.0v2.0h-2.0zM346.3,96.2h2.0v2.0h-2.0zM337.6,112.9h2.0v2.0h-2.0zM342.4,101.7h2.0v2.0h-2.0z" fill="#ff4f28"/><path d="M352.7,104.2h2.0v2.0h-2.0zM345.7,88.5h2.0v2.0h-2.0zM344.9,90.6h2.0v2.0h-2.0zM350.5,102.9h2.0v2.0h-2.0zM352.7,95.2h2.0v2.0h-2.0zM349.2,95.1h2.0v2.0h-2.0zM347.6,102.7h2.0v2.0h-2.0zM354.3,102.5h2.0v2.0h-2.0zM346.0,97.8h2.0v2.0h-2.0zM353.8,93.0h2.0v2.0h-2.0zM355.7,104.2h2.0v2.0h-2.0zM353.7,102.0h2.0v2.0h-2.0zM352.4,103.6h2.0v2.0h-2.0zM345.7,98.7h2.0v2.0h-2.0zM353.1,96.1h2.0v2.0h-2.0zM347.6,80.9h2.0v2.0h-2.0zM351.8,102.1h2.0v2.0h-2.0zM347.5,85.0h2.0v2.0h-2.0z" fill="#99fca6"/><path d="M336.7,93.5h2.0v2.0h-2.0zM346.2,117.3h2.0v2.0h-2.0zM348.8,100.7h2.0v2.0h-2.0zM346.7,92.9h2.0v2.0h-2.0zM349.6,99.8h2.0v2.0h-2.0zM332.1,108.0h2.0v2.0h-2.0zM334.9,98.4h2.0v2.0h-2.0zM333.2,103.0h2.0v2.0h-2.0zM343.7,112.8h2.0v2.0h-2.0zM332.8,113.3h2.0v2.0h-2.0zM334.3,97.1h2.0v2.0h-2.0zM345.2,100.2h2.0v2.0h-2.0zM339.0,106.3h2.0v2.0h-2.0zM336.6,112.4h2.0v2.0h-2.0zM336.4,113.7h2.0v2.0h-2.0zM349.0,105.5h2.0v2.0h-2.0zM332.6,112.0h2.0v2.0h-2.0zM332.6,104.6h2.0v2.0h-2.0zM340.9,92.7h2.0v2.0h-2.0zM345.2,110.6h2.0v2.0h-2.0z" fill="#e5ce74"/><path d="M347.9,94.8h2.0v2.0h-2.0zM346.3,99.9h2.0v2.0h-2.0zM340.0,107.4h2.0v2.0h-2.0zM356.9,105.7h2.0v2.0h-2.0zM356.1,92.9h2.0v2.0h-2.0zM356.7,85.9h2.0v2.0h-2.0zM345.5,87.6h2.0v2.0h-2.0zM345.0,102.4h2.0v2.0h-2.0zM350.6,96.3h2.0v2.0h-2.0zM342.5,89.1h2.0v2.0h-2.0zM343.9,91.6h2.0v2.0h-2.0zM339.3,103.9h2.0v2.0h-2.0zM346.4,95.8h2.0v2.0h-2.0zM339.3,103.0h2.0v2.0h-2.0zM339.3,91.2h2.0v2.0h-2.0zM347.3,102.9h2.0v2.0h-2.0z" fill="#6628fe"/><path d="M350.6,109.9h2.0v2.0h-2.0zM350.2,114.8h2.0v2.0h-2.0zM346.6,109.1h2.0v2.0h-2.0zM336.0,94.8h2.0v2.0h-2.0zM335.2,113.2h2.0v2.0h-2.0zM346.6,106.6h2.0v2.0h-2.0zM339.2,99.0h2.0v2.0h-2.0zM337.6,106.7h2.0v2.0h-2.0zM350.9,97.6h2.0v2.0h-2.0zM335.7,93.9h2.0v2.0h-2.0zM340.7,114.2h2.0v2.0h-2.0zM347.9,101.7h2.0v2.0h-2.0zM336.6,92.0h2.0v2.0h-2.0zM337.5,110.8h2.0v2.0h-2.0zM342.5,116.7h2.0v2.0h-2.0zM349.6,111.3h2.0v2.0h-2.0zM342.6,112.0h2.0v2.0h-2.0zM337.1,92.0h2.0v2.0h-2.0z" fill="#1996f3"/><path d="M314.3,92.5h2.0v2.0h-2.0zM348.5,119.5h2.0v2.0h-2.0z" fill="#cce385"/></svg><svg x="753" y="158" width="108" height="494" viewBox="753 158 108 494" overflow="hidden"><path d="M831.2,521.6h2.0v2.0h-2.0zM858.7,520.8h2.0v2.0h-2.0zM842.3,520.2h2.0v2.0h-2.0zM808.1,522.4h2.0v2.0h-2.0zM852.7,521.9h2.0v2.0h-2.0zM826.0,523.0h2.0v2.0h-2.0zM853.8,520.2h2.0v2.0h-2.0zM800.9,522.5h2.0v2.0h-2.0zM824.1,522.4h2.0v2.0h-2.0zM836.0,523.8h2.0v2.0h-2.0zM825.1,520.4h2.0v2.0h-2.0zM838.4,523.9h2.0v2.0h-2.0zM809.8,523.1h2.0v2.0h-2.0zM839.7,521.2h2.0v2.0h-2.0zM803.4,526.0h2.0v2.0h-2.0zM809.1,520.3h2.0v2.0h-2.0zM835.8,524.2h2.0v2.0h-2.0zM809.9,526.2h2.0v2.0h-2.0zM808.5,523.4h2.0v2.0h-2.0zM855.4,523.0h2.0v2.0h-2.0zM854.7,518.9h2.0v2.0h-2.0zM806.3,524.9h2.0v2.0h-2.0zM804.7,521.6h2.0v2.0h-2.0zM801.0,524.7h2.0v2.0h-2.0zM830.7,525.0h2.0v2.0h-2.0zM827.2,522.8h2.0v2.0h-2.0zM833.2,524.8h2.0v2.0h-2.0zM830.0,519.2h2.0v2.0h-2.0zM836.9,518.3h2.0v2.0h-2.0zM850.0,517.1h2.0v2.0h-2.0zM844.3,517.6h2.0v2.0h-2.0zM839.7,522.6h2.0v2.0h-2.0zM828.3,521.0h2.0v2.0h-2.0zM820.9,522.7h2.0v2.0h-2.0zM822.4,525.7h2.0v2.0h-2.0zM805.9,526.4h2.0v2.0h-2.0zM823.2,523.8h2.0v2.0h-2.0zM800.3,520.9h2.0v2.0h-2.0zM843.7,519.0h2.0v2.0h-2.0zM810.5,520.5h2.0v2.0h-2.0zM815.7,524.5h2.0v2.0h-2.0zM846.4,521.9h2.0v2.0h-2.0zM800.9,525.1h2.0v2.0h-2.0zM814.7,522.9h2.0v2.0h-2.0zM818.2,521.9h2.0v2.0h-2.0zM857.7,517.8h2.0v2.0h-2.0zM829.0,523.1h2.0v2.0h-2.0zM820.9,526.1h2.0v2.0h-2.0zM813.0,526.0h2.0v2.0h-2.0zM805.6,520.8h2.0v2.0h-2.0zM839.3,523.6h2.0v2.0h-2.0zM843.2,524.3h2.0v2.0h-2.0zM795.8,523.6h2.0v2.0h-2.0zM833.0,523.2h2.0v2.0h-2.0zM833.5,523.6h2.0v2.0h-2.0zM801.4,521.4h2.0v2.0h-2.0zM812.0,524.5h2.0v2.0h-2.0zM814.0,520.5h2.0v2.0h-2.0zM839.5,520.9h2.0v2.0h-2.0zM855.5,519.8h2.0v2.0h-2.0zM848.7,518.5h2.0v2.0h-2.0zM838.3,519.1h2.0v2.0h-2.0zM853.7,517.7h2.0v2.0h-2.0zM837.5,522.5h2.0v2.0h-2.0zM858.9,520.2h2.0v2.0h-2.0zM837.0,522.3h2.0v2.0h-2.0zM795.0,525.4h2.0v2.0h-2.0zM802.6,526.6h2.0v2.0h-2.0zM818.0,523.9h2.0v2.0h-2.0zM803.1,524.7h2.0v2.0h-2.0zM810.4,524.8h2.0v2.0h-2.0zM812.8,520.2h2.0v2.0h-2.0zM844.5,518.5h2.0v2.0h-2.0zM819.4,520.0h2.0v2.0h-2.0zM836.3,521.2h2.0v2.0h-2.0zM824.4,523.8h2.0v2.0h-2.0zM809.2,520.8h2.0v2.0h-2.0zM817.8,521.2h2.0v2.0h-2.0zM855.8,522.1h2.0v2.0h-2.0zM843.1,522.2h2.0v2.0h-2.0zM850.6,517.2h2.0v2.0h-2.0zM856.3,521.8h2.0v2.0h-2.0zM851.1,518.3h2.0v2.0h-2.0zM855.0,521.1h2.0v2.0h-2.0zM823.9,519.5h2.0v2.0h-2.0zM807.6,523.3h2.0v2.0h-2.0zM837.1,521.7h2.0v2.0h-2.0zM795.6,521.2h2.0v2.0h-2.0zM842.9,521.9h2.0v2.0h-2.0zM809.4,521.5h2.0v2.0h-2.0zM833.9,523.2h2.0v2.0h-2.0zM803.6,524.8h2.0v2.0h-2.0zM850.6,520.0h2.0v2.0h-2.0zM853.6,518.0h2.0v2.0h-2.0zM809.0,522.6h2.0v2.0h-2.0zM853.5,516.9h2.0v2.0h-2.0zM806.6,524.2h2.0v2.0h-2.0zM820.5,523.5h2.0v2.0h-2.0zM809.4,521.2h2.0v2.0h-2.0zM835.0,518.4h2.0v2.0h-2.0zM849.0,518.2h2.0v2.0h-2.0zM808.9,526.6h2.0v2.0h-2.0zM815.2,520.5h2.0v2.0h-2.0zM816.6,523.4h2.0v2.0h-2.0zM804.7,525.1h2.0v2.0h-2.0zM811.0,521.0h2.0v2.0h-2.0zM831.1,523.8h2.0v2.0h-2.0zM802.0,526.6h2.0v2.0h-2.0zM828.5,522.4h2.0v2.0h-2.0zM852.5,516.6h2.0v2.0h-2.0zM832.6,521.0h2.0v2.0h-2.0zM821.0,525.8h2.0v2.0h-2.0zM857.2,519.0h2.0v2.0h-2.0zM856.2,520.5h2.0v2.0h-2.0zM797.4,526.1h2.0v2.0h-2.0zM821.7,521.8h2.0v2.0h-2.0zM837.1,521.6h2.0v2.0h-2.0zM837.4,522.4h2.0v2.0h-2.0zM857.5,518.1h2.0v2.0h-2.0zM799.0,525.9h2.0v2.0h-2.0zM839.7,518.8h2.0v2.0h-2.0zM828.6,523.5h2.0v2.0h-2.0zM798.8,524.2h2.0v2.0h-2.0zM835.2,521.2h2.0v2.0h-2.0zM838.4,524.8h2.0v2.0h-2.0zM838.7,523.8h2.0v2.0h-2.0zM809.4,520.7h2.0v2.0h-2.0zM857.2,518.3h2.0v2.0h-2.0zM853.4,518.6h2.0v2.0h-2.0zM842.5,520.0h2.0v2.0h-2.0zM837.8,524.4h2.0v2.0h-2.0zM820.8,520.6h2.0v2.0h-2.0zM799.1,522.4h2.0v2.0h-2.0zM856.2,522.3h2.0v2.0h-2.0zM817.5,523.7h2.0v2.0h-2.0zM836.4,523.0h2.0v2.0h-2.0zM807.0,524.4h2.0v2.0h-2.0zM848.2,522.6h2.0v2.0h-2.0zM795.0,521.9h2.0v2.0h-2.0zM841.9,519.0h2.0v2.0h-2.0zM805.4,523.7h2.0v2.0h-2.0zM811.5,523.8h2.0v2.0h-2.0zM801.5,526.3h2.0v2.0h-2.0zM858.0,517.6h2.0v2.0h-2.0zM816.1,521.7h2.0v2.0h-2.0zM815.1,520.6h2.0v2.0h-2.0zM835.2,523.7h2.0v2.0h-2.0zM811.4,524.7h2.0v2.0h-2.0zM842.1,519.8h2.0v2.0h-2.0zM855.3,522.2h2.0v2.0h-2.0zM839.7,520.2h2.0v2.0h-2.0zM841.3,518.5h2.0v2.0h-2.0zM800.2,522.4h2.0v2.0h-2.0zM806.6,523.8h2.0v2.0h-2.0zM837.8,522.2h2.0v2.0h-2.0zM835.8,518.7h2.0v2.0h-2.0zM811.1,520.7h2.0v2.0h-2.0zM829.2,524.0h2.0v2.0h-2.0zM796.0,524.0h2.0v2.0h-2.0zM836.2,523.6h2.0v2.0h-2.0zM837.7,518.9h2.0v2.0h-2.0zM846.4,519.4h2.0v2.0h-2.0zM814.8,523.9h2.0v2.0h-2.0zM797.7,522.7h2.0v2.0h-2.0zM801.9,521.6h2.0v2.0h-2.0zM828.4,520.0h2.0v2.0h-2.0zM841.3,521.8h2.0v2.0h-2.0zM838.1,518.4h2.0v2.0h-2.0zM815.0,521.2h2.0v2.0h-2.0zM841.0,524.5h2.0v2.0h-2.0zM818.5,520.9h2.0v2.0h-2.0zM824.1,523.0h2.0v2.0h-2.0zM802.5,521.1h2.0v2.0h-2.0zM834.9,519.3h2.0v2.0h-2.0zM798.5,524.3h2.0v2.0h-2.0zM844.9,520.8h2.0v2.0h-2.0zM800.2,526.6h2.0v2.0h-2.0zM844.7,517.5h2.0v2.0h-2.0zM804.8,521.9h2.0v2.0h-2.0zM849.0,517.9h2.0v2.0h-2.0zM805.5,524.4h2.0v2.0h-2.0zM822.1,519.7h2.0v2.0h-2.0zM811.1,524.1h2.0v2.0h-2.0zM833.9,519.2h2.0v2.0h-2.0zM824.7,523.9h2.0v2.0h-2.0zM806.8,526.5h2.0v2.0h-2.0zM801.1,524.9h2.0v2.0h-2.0zM810.8,521.2h2.0v2.0h-2.0zM850.4,519.5h2.0v2.0h-2.0zM805.4,524.2h2.0v2.0h-2.0zM821.6,525.0h2.0v2.0h-2.0zM851.0,522.3h2.0v2.0h-2.0zM794.7,524.4h2.0v2.0h-2.0zM856.8,519.6h2.0v2.0h-2.0zM818.7,519.9h2.0v2.0h-2.0zM809.0,526.0h2.0v2.0h-2.0zM821.1,523.0h2.0v2.0h-2.0zM810.1,526.1h2.0v2.0h-2.0zM842.1,524.3h2.0v2.0h-2.0zM847.7,518.8h2.0v2.0h-2.0zM837.3,520.2h2.0v2.0h-2.0zM849.4,517.5h2.0v2.0h-2.0zM829.6,519.7h2.0v2.0h-2.0zM848.2,519.8h2.0v2.0h-2.0zM852.0,517.5h2.0v2.0h-2.0zM838.7,523.2h2.0v2.0h-2.0zM797.2,525.6h2.0v2.0h-2.0zM830.2,521.0h2.0v2.0h-2.0zM816.4,524.6h2.0v2.0h-2.0zM846.6,518.5h2.0v2.0h-2.0zM842.9,518.2h2.0v2.0h-2.0zM824.5,520.4h2.0v2.0h-2.0zM814.5,523.0h2.0v2.0h-2.0zM853.1,521.2h2.0v2.0h-2.0zM814.6,525.6h2.0v2.0h-2.0zM832.8,525.1h2.0v2.0h-2.0zM828.2,521.3h2.0v2.0h-2.0zM821.5,525.7h2.0v2.0h-2.0zM837.9,518.3h2.0v2.0h-2.0zM817.9,520.0h2.0v2.0h-2.0zM802.2,526.1h2.0v2.0h-2.0zM796.3,522.5h2.0v2.0h-2.0zM822.5,523.9h2.0v2.0h-2.0zM828.6,525.0h2.0v2.0h-2.0zM846.1,519.9h2.0v2.0h-2.0zM808.7,524.2h2.0v2.0h-2.0zM846.9,518.4h2.0v2.0h-2.0zM822.6,520.2h2.0v2.0h-2.0zM815.7,524.1h2.0v2.0h-2.0zM806.3,522.0h2.0v2.0h-2.0zM827.0,523.4h2.0v2.0h-2.0zM803.5,526.5h2.0v2.0h-2.0zM846.5,518.0h2.0v2.0h-2.0zM854.1,522.1h2.0v2.0h-2.0zM817.9,526.2h2.0v2.0h-2.0zM827.2,525.9h2.0v2.0h-2.0zM835.7,524.8h2.0v2.0h-2.0zM822.0,522.6h2.0v2.0h-2.0zM821.7,521.6h2.0v2.0h-2.0zM841.3,524.2h2.0v2.0h-2.0zM807.3,522.4h2.0v2.0h-2.0zM841.6,524.2h2.0v2.0h-2.0zM841.0,523.8h2.0v2.0h-2.0zM812.0,525.2h2.0v2.0h-2.0zM855.1,516.6h2.0v2.0h-2.0zM856.3,520.9h2.0v2.0h-2.0zM846.6,523.5h2.0v2.0h-2.0zM803.4,521.1h2.0v2.0h-2.0zM816.2,524.4h2.0v2.0h-2.0zM804.6,520.5h2.0v2.0h-2.0zM834.8,519.3h2.0v2.0h-2.0zM814.8,521.6h2.0v2.0h-2.0zM806.1,521.3h2.0v2.0h-2.0zM820.6,519.9h2.0v2.0h-2.0zM822.1,519.9h2.0v2.0h-2.0zM839.6,520.3h2.0v2.0h-2.0zM804.1,525.5h2.0v2.0h-2.0zM817.4,522.9h2.0v2.0h-2.0zM854.7,520.4h2.0v2.0h-2.0zM830.6,523.3h2.0v2.0h-2.0z" fill="#19cee3"/><path d="M822.3,519.6h2.0v2.0h-2.0zM796.4,514.9h2.0v2.0h-2.0zM827.5,518.3h2.0v2.0h-2.0zM816.0,517.4h2.0v2.0h-2.0zM805.0,519.6h2.0v2.0h-2.0zM814.2,515.2h2.0v2.0h-2.0zM798.0,512.9h2.0v2.0h-2.0zM829.5,518.4h2.0v2.0h-2.0zM791.2,514.6h2.0v2.0h-2.0zM811.1,516.0h2.0v2.0h-2.0zM806.0,519.2h2.0v2.0h-2.0zM805.4,516.3h2.0v2.0h-2.0zM830.9,517.1h2.0v2.0h-2.0zM811.0,514.7h2.0v2.0h-2.0zM807.0,516.9h2.0v2.0h-2.0zM824.6,514.1h2.0v2.0h-2.0zM806.3,515.1h2.0v2.0h-2.0zM806.0,519.3h2.0v2.0h-2.0zM813.7,514.2h2.0v2.0h-2.0zM804.6,518.6h2.0v2.0h-2.0zM797.0,517.5h2.0v2.0h-2.0zM791.0,513.5h2.0v2.0h-2.0zM792.6,518.4h2.0v2.0h-2.0zM796.5,513.8h2.0v2.0h-2.0zM792.5,514.1h2.0v2.0h-2.0zM822.3,517.8h2.0v2.0h-2.0zM830.1,519.6h2.0v2.0h-2.0zM814.2,519.4h2.0v2.0h-2.0zM793.9,519.4h2.0v2.0h-2.0zM809.1,513.5h2.0v2.0h-2.0z" fill="#19cee3"/><path d="M853.4,524.2h2.0v2.0h-2.0zM844.0,514.2h2.0v2.0h-2.0zM856.7,522.8h2.0v2.0h-2.0zM849.5,525.7h2.0v2.0h-2.0zM835.0,513.7h2.0v2.0h-2.0zM837.2,513.3h2.0v2.0h-2.0zM852.4,521.2h2.0v2.0h-2.0zM836.9,515.1h2.0v2.0h-2.0zM838.7,520.9h2.0v2.0h-2.0zM851.5,525.6h2.0v2.0h-2.0zM843.4,525.7h2.0v2.0h-2.0zM845.3,518.1h2.0v2.0h-2.0zM840.6,516.0h2.0v2.0h-2.0zM859.3,525.9h2.0v2.0h-2.0zM852.4,515.3h2.0v2.0h-2.0z" fill="#19cee3"/><path d="M841.7,519.7h2.0v2.0h-2.0zM836.1,518.7h2.0v2.0h-2.0zM843.4,520.0h2.0v2.0h-2.0zM845.9,518.3h2.0v2.0h-2.0zM851.7,519.0h2.0v2.0h-2.0zM841.4,518.0h2.0v2.0h-2.0zM852.4,518.8h2.0v2.0h-2.0zM837.7,516.9h2.0v2.0h-2.0zM842.3,519.5h2.0v2.0h-2.0zM835.1,520.0h2.0v2.0h-2.0zM849.9,518.6h2.0v2.0h-2.0zM835.1,520.0h2.0v2.0h-2.0zM842.9,519.3h2.0v2.0h-2.0zM845.8,519.6h2.0v2.0h-2.0zM846.7,517.6h2.0v2.0h-2.0zM842.2,517.3h2.0v2.0h-2.0zM841.0,519.8h2.0v2.0h-2.0zM840.0,519.1h2.0v2.0h-2.0zM838.0,520.3h2.0v2.0h-2.0zM844.3,517.4h2.0v2.0h-2.0zM837.8,519.8h2.0v2.0h-2.0zM846.1,518.1h2.0v2.0h-2.0zM849.8,516.5h2.0v2.0h-2.0zM851.6,518.2h2.0v2.0h-2.0zM848.8,517.3h2.0v2.0h-2.0zM848.9,519.2h2.0v2.0h-2.0zM836.9,518.5h2.0v2.0h-2.0zM848.7,517.1h2.0v2.0h-2.0zM847.4,517.4h2.0v2.0h-2.0zM843.1,518.9h2.0v2.0h-2.0zM843.7,520.3h2.0v2.0h-2.0zM844.0,516.6h2.0v2.0h-2.0zM849.2,516.7h2.0v2.0h-2.0zM847.9,516.3h2.0v2.0h-2.0zM849.1,516.7h2.0v2.0h-2.0zM847.1,517.9h2.0v2.0h-2.0zM839.7,520.1h2.0v2.0h-2.0zM835.6,518.4h2.0v2.0h-2.0zM836.7,520.3h2.0v2.0h-2.0zM843.8,518.3h2.0v2.0h-2.0z" fill="#4df3ce"/><path d="M828.4,519.9h2.0v2.0h-2.0zM820.9,520.7h2.0v2.0h-2.0zM817.7,517.5h2.0v2.0h-2.0zM830.3,517.5h2.0v2.0h-2.0zM817.7,519.0h2.0v2.0h-2.0zM820.7,517.7h2.0v2.0h-2.0zM832.6,518.9h2.0v2.0h-2.0zM829.7,518.0h2.0v2.0h-2.0zM832.3,517.9h2.0v2.0h-2.0zM832.1,519.5h2.0v2.0h-2.0z" fill="#4df3ce"/><path d="M857.3,552.9h2.0v2.0h-2.0zM836.8,551.7h2.0v2.0h-2.0zM850.3,551.2h2.0v2.0h-2.0zM804.9,553.6h2.0v2.0h-2.0zM847.3,552.4h2.0v2.0h-2.0zM843.7,550.2h2.0v2.0h-2.0zM826.8,553.1h2.0v2.0h-2.0zM856.7,553.6h2.0v2.0h-2.0zM808.6,552.4h2.0v2.0h-2.0zM832.2,551.0h2.0v2.0h-2.0zM809.1,549.7h2.0v2.0h-2.0zM827.2,551.5h2.0v2.0h-2.0zM815.1,550.8h2.0v2.0h-2.0zM832.2,552.8h2.0v2.0h-2.0zM834.4,549.8h2.0v2.0h-2.0zM852.2,550.8h2.0v2.0h-2.0zM856.6,553.9h2.0v2.0h-2.0zM807.4,551.9h2.0v2.0h-2.0zM857.0,550.9h2.0v2.0h-2.0zM831.8,550.6h2.0v2.0h-2.0zM800.7,550.0h2.0v2.0h-2.0zM806.4,550.4h2.0v2.0h-2.0zM836.8,551.8h2.0v2.0h-2.0zM855.9,552.4h2.0v2.0h-2.0zM820.7,553.7h2.0v2.0h-2.0zM837.0,551.7h2.0v2.0h-2.0zM850.8,552.3h2.0v2.0h-2.0zM820.6,552.0h2.0v2.0h-2.0zM817.0,553.8h2.0v2.0h-2.0zM813.7,553.9h2.0v2.0h-2.0zM802.9,549.0h2.0v2.0h-2.0zM832.2,550.0h2.0v2.0h-2.0zM829.4,549.6h2.0v2.0h-2.0zM849.2,552.3h2.0v2.0h-2.0zM840.1,553.6h2.0v2.0h-2.0z" fill="#80ffb4"/><path d="M833.6,558.1h2.0v2.0h-2.0zM820.8,550.0h2.0v2.0h-2.0zM790.3,555.1h2.0v2.0h-2.0zM832.6,553.8h2.0v2.0h-2.0zM814.1,550.1h2.0v2.0h-2.0zM807.1,560.8h2.0v2.0h-2.0zM815.1,559.9h2.0v2.0h-2.0zM788.6,552.4h2.0v2.0h-2.0zM796.2,560.0h2.0v2.0h-2.0zM792.7,561.2h2.0v2.0h-2.0zM800.3,560.6h2.0v2.0h-2.0zM811.7,553.9h2.0v2.0h-2.0zM832.5,554.9h2.0v2.0h-2.0zM820.1,550.8h2.0v2.0h-2.0zM826.2,561.8h2.0v2.0h-2.0zM793.1,559.0h2.0v2.0h-2.0zM800.4,551.8h2.0v2.0h-2.0zM804.8,557.9h2.0v2.0h-2.0zM831.9,561.9h2.0v2.0h-2.0zM833.7,557.5h2.0v2.0h-2.0zM818.1,551.9h2.0v2.0h-2.0zM821.4,556.6h2.0v2.0h-2.0zM804.5,560.8h2.0v2.0h-2.0zM799.7,551.7h2.0v2.0h-2.0zM795.3,551.8h2.0v2.0h-2.0zM815.1,559.6h2.0v2.0h-2.0zM795.4,556.0h2.0v2.0h-2.0zM814.4,556.7h2.0v2.0h-2.0zM807.0,556.5h2.0v2.0h-2.0zM788.7,550.7h2.0v2.0h-2.0zM807.4,552.8h2.0v2.0h-2.0zM822.8,552.9h2.0v2.0h-2.0zM825.9,552.9h2.0v2.0h-2.0zM792.3,555.7h2.0v2.0h-2.0zM805.8,554.0h2.0v2.0h-2.0zM823.2,552.7h2.0v2.0h-2.0zM818.8,560.0h2.0v2.0h-2.0zM808.8,556.0h2.0v2.0h-2.0zM830.5,557.2h2.0v2.0h-2.0zM796.3,550.8h2.0v2.0h-2.0zM791.8,554.0h2.0v2.0h-2.0zM792.1,557.8h2.0v2.0h-2.0zM807.5,553.7h2.0v2.0h-2.0zM811.6,561.2h2.0v2.0h-2.0zM799.2,551.9h2.0v2.0h-2.0zM802.0,553.9h2.0v2.0h-2.0zM829.9,558.5h2.0v2.0h-2.0zM807.7,552.0h2.0v2.0h-2.0zM790.1,551.5h2.0v2.0h-2.0zM827.0,557.8h2.0v2.0h-2.0z" fill="#e5ce74"/><path d="M794.4,557.9h2.0v2.0h-2.0zM790.4,556.6h2.0v2.0h-2.0zM801.7,552.1h2.0v2.0h-2.0zM818.4,558.9h2.0v2.0h-2.0zM808.9,552.8h2.0v2.0h-2.0zM815.5,555.8h2.0v2.0h-2.0zM815.1,552.0h2.0v2.0h-2.0zM825.0,551.0h2.0v2.0h-2.0zM797.1,555.4h2.0v2.0h-2.0zM796.1,552.0h2.0v2.0h-2.0zM816.2,561.9h2.0v2.0h-2.0zM801.7,553.9h2.0v2.0h-2.0zM815.5,553.4h2.0v2.0h-2.0zM804.4,558.6h2.0v2.0h-2.0zM805.7,552.7h2.0v2.0h-2.0zM790.9,557.0h2.0v2.0h-2.0zM828.6,561.1h2.0v2.0h-2.0zM792.1,556.5h2.0v2.0h-2.0zM808.0,553.1h2.0v2.0h-2.0zM815.5,556.5h2.0v2.0h-2.0z" fill="#80ffb4"/><path d="M847.4,561.0h2.0v2.0h-2.0zM855.6,564.7h2.0v2.0h-2.0zM825.3,560.0h2.0v2.0h-2.0zM825.9,559.9h2.0v2.0h-2.0zM839.3,563.9h2.0v2.0h-2.0zM832.2,565.8h2.0v2.0h-2.0zM797.0,564.0h2.0v2.0h-2.0zM846.9,559.8h2.0v2.0h-2.0zM815.3,559.4h2.0v2.0h-2.0zM832.5,564.1h2.0v2.0h-2.0zM817.0,563.9h2.0v2.0h-2.0zM818.2,564.0h2.0v2.0h-2.0zM812.3,565.8h2.0v2.0h-2.0zM822.9,559.0h2.0v2.0h-2.0zM800.0,564.1h2.0v2.0h-2.0zM851.1,563.5h2.0v2.0h-2.0zM804.3,565.1h2.0v2.0h-2.0zM841.3,559.8h2.0v2.0h-2.0zM819.1,563.7h2.0v2.0h-2.0zM794.2,559.3h2.0v2.0h-2.0zM817.3,565.1h2.0v2.0h-2.0zM859.8,561.2h2.0v2.0h-2.0zM854.0,564.5h2.0v2.0h-2.0zM851.1,563.1h2.0v2.0h-2.0zM858.0,563.5h2.0v2.0h-2.0zM856.6,563.0h2.0v2.0h-2.0zM807.0,562.6h2.0v2.0h-2.0zM825.9,561.4h2.0v2.0h-2.0zM818.7,562.6h2.0v2.0h-2.0zM832.8,560.6h2.0v2.0h-2.0zM812.3,562.5h2.0v2.0h-2.0zM827.3,561.9h2.0v2.0h-2.0zM837.8,560.3h2.0v2.0h-2.0zM829.1,560.9h2.0v2.0h-2.0zM844.8,563.9h2.0v2.0h-2.0zM845.5,562.6h2.0v2.0h-2.0zM810.4,565.5h2.0v2.0h-2.0zM827.7,561.6h2.0v2.0h-2.0zM813.2,561.8h2.0v2.0h-2.0zM840.8,564.7h2.0v2.0h-2.0zM825.8,564.1h2.0v2.0h-2.0zM808.1,562.2h2.0v2.0h-2.0zM817.6,561.1h2.0v2.0h-2.0zM817.7,564.3h2.0v2.0h-2.0zM842.4,560.5h2.0v2.0h-2.0zM809.4,564.5h2.0v2.0h-2.0zM837.2,563.7h2.0v2.0h-2.0zM835.9,563.9h2.0v2.0h-2.0zM812.0,559.4h2.0v2.0h-2.0zM817.8,559.2h2.0v2.0h-2.0zM857.5,562.7h2.0v2.0h-2.0zM838.2,565.8h2.0v2.0h-2.0zM847.1,560.6h2.0v2.0h-2.0zM816.2,559.8h2.0v2.0h-2.0zM846.5,564.2h2.0v2.0h-2.0zM826.2,561.6h2.0v2.0h-2.0zM811.8,562.4h2.0v2.0h-2.0zM841.0,565.3h2.0v2.0h-2.0zM850.0,565.1h2.0v2.0h-2.0zM823.0,561.9h2.0v2.0h-2.0zM814.7,565.8h2.0v2.0h-2.0zM806.1,560.1h2.0v2.0h-2.0zM812.5,565.5h2.0v2.0h-2.0zM850.3,561.3h2.0v2.0h-2.0zM850.2,565.2h2.0v2.0h-2.0zM822.2,560.3h2.0v2.0h-2.0zM845.0,561.6h2.0v2.0h-2.0zM801.9,565.3h2.0v2.0h-2.0zM823.0,561.8h2.0v2.0h-2.0zM833.3,560.8h2.0v2.0h-2.0z" fill="#1996f3"/><path d="M796.3,563.3h2.0v2.0h-2.0zM819.7,561.1h2.0v2.0h-2.0zM819.2,565.6h2.0v2.0h-2.0zM816.6,565.1h2.0v2.0h-2.0zM835.6,562.1h2.0v2.0h-2.0zM796.3,565.0h2.0v2.0h-2.0zM834.7,562.8h2.0v2.0h-2.0zM808.0,566.1h2.0v2.0h-2.0zM854.1,562.4h2.0v2.0h-2.0zM833.1,564.4h2.0v2.0h-2.0zM815.9,561.2h2.0v2.0h-2.0zM816.1,564.9h2.0v2.0h-2.0zM834.1,564.1h2.0v2.0h-2.0zM803.0,562.3h2.0v2.0h-2.0zM815.2,563.5h2.0v2.0h-2.0zM818.6,566.4h2.0v2.0h-2.0zM802.5,566.9h2.0v2.0h-2.0zM810.6,566.1h2.0v2.0h-2.0zM810.8,564.5h2.0v2.0h-2.0zM819.5,561.2h2.0v2.0h-2.0zM846.8,565.9h2.0v2.0h-2.0zM812.5,565.7h2.0v2.0h-2.0zM826.1,566.9h2.0v2.0h-2.0zM798.5,563.3h2.0v2.0h-2.0zM809.8,564.7h2.0v2.0h-2.0zM845.6,566.1h2.0v2.0h-2.0zM830.6,563.3h2.0v2.0h-2.0zM847.0,561.6h2.0v2.0h-2.0zM811.9,565.5h2.0v2.0h-2.0zM823.6,567.0h2.0v2.0h-2.0zM800.9,563.8h2.0v2.0h-2.0zM808.8,561.0h2.0v2.0h-2.0zM801.1,561.5h2.0v2.0h-2.0zM819.0,563.6h2.0v2.0h-2.0zM828.0,562.7h2.0v2.0h-2.0zM840.6,564.1h2.0v2.0h-2.0zM858.8,562.0h2.0v2.0h-2.0zM828.2,564.0h2.0v2.0h-2.0zM819.2,566.2h2.0v2.0h-2.0zM808.6,566.3h2.0v2.0h-2.0zM818.3,563.0h2.0v2.0h-2.0zM835.0,564.4h2.0v2.0h-2.0zM813.5,561.5h2.0v2.0h-2.0zM857.1,563.2h2.0v2.0h-2.0zM802.4,564.9h2.0v2.0h-2.0zM829.6,563.0h2.0v2.0h-2.0zM816.3,566.1h2.0v2.0h-2.0zM817.0,563.5h2.0v2.0h-2.0zM857.2,563.2h2.0v2.0h-2.0zM821.1,562.0h2.0v2.0h-2.0zM838.1,565.0h2.0v2.0h-2.0zM824.0,563.4h2.0v2.0h-2.0zM810.1,565.7h2.0v2.0h-2.0zM824.7,566.0h2.0v2.0h-2.0zM819.4,565.4h2.0v2.0h-2.0z" fill="#6628fe"/><path d="M790.2,552.9h2.0v2.0h-2.0zM827.4,558.9h2.0v2.0h-2.0zM816.0,556.5h2.0v2.0h-2.0zM807.9,552.6h2.0v2.0h-2.0zM795.9,558.4h2.0v2.0h-2.0zM816.8,553.4h2.0v2.0h-2.0zM814.8,551.8h2.0v2.0h-2.0zM813.5,552.2h2.0v2.0h-2.0zM809.4,554.1h2.0v2.0h-2.0zM811.0,551.7h2.0v2.0h-2.0zM808.3,558.0h2.0v2.0h-2.0zM794.4,554.0h2.0v2.0h-2.0zM816.1,557.1h2.0v2.0h-2.0zM813.7,560.1h2.0v2.0h-2.0zM811.9,552.9h2.0v2.0h-2.0zM806.7,560.8h2.0v2.0h-2.0zM811.7,559.8h2.0v2.0h-2.0zM803.6,555.8h2.0v2.0h-2.0zM827.8,560.7h2.0v2.0h-2.0zM815.1,551.4h2.0v2.0h-2.0zM813.5,550.4h2.0v2.0h-2.0zM826.4,562.6h2.0v2.0h-2.0zM818.1,553.5h2.0v2.0h-2.0zM822.8,552.3h2.0v2.0h-2.0zM822.1,556.8h2.0v2.0h-2.0zM789.6,561.6h2.0v2.0h-2.0zM806.6,560.8h2.0v2.0h-2.0zM816.5,556.9h2.0v2.0h-2.0zM823.5,552.6h2.0v2.0h-2.0zM824.9,554.4h2.0v2.0h-2.0zM790.0,554.4h2.0v2.0h-2.0zM791.6,550.9h2.0v2.0h-2.0zM814.0,551.6h2.0v2.0h-2.0zM795.4,553.8h2.0v2.0h-2.0zM800.1,562.0h2.0v2.0h-2.0zM825.2,561.3h2.0v2.0h-2.0zM828.6,555.7h2.0v2.0h-2.0zM820.8,553.7h2.0v2.0h-2.0zM826.1,560.5h2.0v2.0h-2.0zM818.3,553.0h2.0v2.0h-2.0zM792.7,562.0h2.0v2.0h-2.0zM811.1,558.0h2.0v2.0h-2.0zM823.5,551.9h2.0v2.0h-2.0zM817.0,556.0h2.0v2.0h-2.0zM820.4,555.9h2.0v2.0h-2.0zM796.9,562.4h2.0v2.0h-2.0zM800.2,559.7h2.0v2.0h-2.0zM822.2,553.2h2.0v2.0h-2.0zM816.8,555.1h2.0v2.0h-2.0zM798.0,552.8h2.0v2.0h-2.0zM827.2,554.8h2.0v2.0h-2.0zM809.4,556.5h2.0v2.0h-2.0zM790.1,559.8h2.0v2.0h-2.0zM818.8,561.4h2.0v2.0h-2.0zM803.3,552.7h2.0v2.0h-2.0zM802.9,559.5h2.0v2.0h-2.0zM815.3,555.3h2.0v2.0h-2.0zM810.0,552.0h2.0v2.0h-2.0zM825.7,556.1h2.0v2.0h-2.0zM809.3,560.2h2.0v2.0h-2.0zM796.9,559.4h2.0v2.0h-2.0zM803.1,560.6h2.0v2.0h-2.0zM792.8,553.6h2.0v2.0h-2.0zM814.4,556.3h2.0v2.0h-2.0zM804.1,557.5h2.0v2.0h-2.0zM797.7,555.7h2.0v2.0h-2.0zM789.1,560.4h2.0v2.0h-2.0zM799.2,560.8h2.0v2.0h-2.0zM811.1,557.8h2.0v2.0h-2.0zM814.0,551.6h2.0v2.0h-2.0z" fill="#ff4f28"/><path d="M851.5,554.1h2.0v2.0h-2.0zM854.8,561.0h2.0v2.0h-2.0zM847.8,561.4h2.0v2.0h-2.0zM838.6,559.4h2.0v2.0h-2.0zM858.2,552.6h2.0v2.0h-2.0zM825.8,555.8h2.0v2.0h-2.0zM841.4,552.1h2.0v2.0h-2.0zM830.4,562.1h2.0v2.0h-2.0zM836.7,552.1h2.0v2.0h-2.0zM829.0,558.1h2.0v2.0h-2.0zM829.2,556.7h2.0v2.0h-2.0zM842.4,556.2h2.0v2.0h-2.0zM841.1,561.7h2.0v2.0h-2.0zM851.2,558.0h2.0v2.0h-2.0zM842.4,553.0h2.0v2.0h-2.0zM851.7,554.3h2.0v2.0h-2.0zM849.6,553.2h2.0v2.0h-2.0zM843.8,559.1h2.0v2.0h-2.0zM836.1,556.7h2.0v2.0h-2.0zM824.5,559.0h2.0v2.0h-2.0zM848.3,552.1h2.0v2.0h-2.0zM842.9,560.3h2.0v2.0h-2.0zM840.6,553.5h2.0v2.0h-2.0zM833.4,556.5h2.0v2.0h-2.0zM836.1,561.0h2.0v2.0h-2.0zM849.5,551.6h2.0v2.0h-2.0zM834.5,551.5h2.0v2.0h-2.0zM848.5,560.9h2.0v2.0h-2.0zM837.6,563.0h2.0v2.0h-2.0zM836.9,554.4h2.0v2.0h-2.0zM841.5,556.2h2.0v2.0h-2.0zM838.6,560.8h2.0v2.0h-2.0zM853.6,556.7h2.0v2.0h-2.0zM828.8,555.7h2.0v2.0h-2.0zM855.9,555.7h2.0v2.0h-2.0zM847.1,557.8h2.0v2.0h-2.0zM839.5,558.0h2.0v2.0h-2.0zM831.3,557.8h2.0v2.0h-2.0zM854.9,551.1h2.0v2.0h-2.0zM836.0,562.3h2.0v2.0h-2.0zM845.8,558.8h2.0v2.0h-2.0zM854.0,556.6h2.0v2.0h-2.0zM827.0,554.2h2.0v2.0h-2.0zM849.1,560.2h2.0v2.0h-2.0zM829.8,559.0h2.0v2.0h-2.0zM847.0,559.2h2.0v2.0h-2.0zM834.3,558.4h2.0v2.0h-2.0zM834.8,551.8h2.0v2.0h-2.0zM847.5,554.0h2.0v2.0h-2.0zM852.0,554.3h2.0v2.0h-2.0zM842.7,561.3h2.0v2.0h-2.0zM826.4,560.2h2.0v2.0h-2.0zM836.0,552.5h2.0v2.0h-2.0zM837.0,557.0h2.0v2.0h-2.0zM837.8,551.7h2.0v2.0h-2.0zM841.9,554.2h2.0v2.0h-2.0zM858.8,555.4h2.0v2.0h-2.0zM838.5,553.2h2.0v2.0h-2.0zM858.8,554.5h2.0v2.0h-2.0zM846.6,561.7h2.0v2.0h-2.0zM836.9,560.6h2.0v2.0h-2.0zM832.6,551.5h2.0v2.0h-2.0zM823.6,556.3h2.0v2.0h-2.0zM855.2,552.8h2.0v2.0h-2.0zM838.7,560.7h2.0v2.0h-2.0zM832.5,552.1h2.0v2.0h-2.0zM841.7,556.0h2.0v2.0h-2.0zM831.0,557.9h2.0v2.0h-2.0zM838.9,562.8h2.0v2.0h-2.0zM833.5,558.2h2.0v2.0h-2.0zM849.0,550.9h2.0v2.0h-2.0zM857.1,551.5h2.0v2.0h-2.0zM833.5,560.0h2.0v2.0h-2.0zM826.8,556.6h2.0v2.0h-2.0zM825.4,552.7h2.0v2.0h-2.0zM841.7,551.9h2.0v2.0h-2.0zM853.2,555.8h2.0v2.0h-2.0zM831.6,553.4h2.0v2.0h-2.0zM850.2,551.4h2.0v2.0h-2.0zM857.9,555.7h2.0v2.0h-2.0zM844.7,562.1h2.0v2.0h-2.0zM848.4,558.2h2.0v2.0h-2.0zM849.4,553.9h2.0v2.0h-2.0zM840.9,552.6h2.0v2.0h-2.0zM838.6,553.9h2.0v2.0h-2.0zM844.3,554.2h2.0v2.0h-2.0zM832.4,559.0h2.0v2.0h-2.0zM825.3,561.2h2.0v2.0h-2.0zM840.8,553.2h2.0v2.0h-2.0zM826.4,557.1h2.0v2.0h-2.0zM841.1,560.1h2.0v2.0h-2.0zM836.2,555.8h2.0v2.0h-2.0zM855.9,553.8h2.0v2.0h-2.0zM831.8,561.4h2.0v2.0h-2.0zM845.3,552.9h2.0v2.0h-2.0zM859.9,559.1h2.0v2.0h-2.0zM852.8,557.8h2.0v2.0h-2.0zM828.7,553.6h2.0v2.0h-2.0zM845.4,552.7h2.0v2.0h-2.0zM839.6,560.0h2.0v2.0h-2.0zM825.6,559.2h2.0v2.0h-2.0zM826.0,556.7h2.0v2.0h-2.0zM846.7,559.6h2.0v2.0h-2.0zM858.5,555.5h2.0v2.0h-2.0zM838.1,555.2h2.0v2.0h-2.0zM848.5,560.4h2.0v2.0h-2.0zM846.7,555.6h2.0v2.0h-2.0zM843.6,557.2h2.0v2.0h-2.0zM829.1,563.3h2.0v2.0h-2.0zM858.7,560.9h2.0v2.0h-2.0zM859.7,556.5h2.0v2.0h-2.0zM853.9,553.4h2.0v2.0h-2.0zM850.2,560.0h2.0v2.0h-2.0zM857.7,561.7h2.0v2.0h-2.0zM855.4,553.7h2.0v2.0h-2.0zM851.9,556.7h2.0v2.0h-2.0zM833.9,555.2h2.0v2.0h-2.0zM852.4,561.8h2.0v2.0h-2.0zM854.1,559.4h2.0v2.0h-2.0zM828.5,552.2h2.0v2.0h-2.0zM843.6,553.0h2.0v2.0h-2.0zM834.8,551.4h2.0v2.0h-2.0zM827.9,560.0h2.0v2.0h-2.0zM830.5,561.9h2.0v2.0h-2.0zM834.5,561.9h2.0v2.0h-2.0zM833.5,553.7h2.0v2.0h-2.0zM838.6,555.3h2.0v2.0h-2.0zM858.5,553.2h2.0v2.0h-2.0zM825.8,559.9h2.0v2.0h-2.0zM844.1,557.1h2.0v2.0h-2.0zM831.4,554.0h2.0v2.0h-2.0zM858.9,555.2h2.0v2.0h-2.0zM826.7,561.9h2.0v2.0h-2.0zM852.8,559.7h2.0v2.0h-2.0zM842.9,561.4h2.0v2.0h-2.0zM827.9,557.6h2.0v2.0h-2.0zM832.1,555.6h2.0v2.0h-2.0zM829.3,559.9h2.0v2.0h-2.0zM843.8,560.9h2.0v2.0h-2.0zM845.9,558.4h2.0v2.0h-2.0zM857.0,561.4h2.0v2.0h-2.0zM843.5,554.6h2.0v2.0h-2.0zM857.3,555.2h2.0v2.0h-2.0zM825.9,554.7h2.0v2.0h-2.0zM848.8,563.0h2.0v2.0h-2.0zM846.5,559.3h2.0v2.0h-2.0zM857.6,560.9h2.0v2.0h-2.0zM838.9,556.5h2.0v2.0h-2.0zM850.9,554.4h2.0v2.0h-2.0zM826.2,558.7h2.0v2.0h-2.0zM852.7,553.5h2.0v2.0h-2.0zM848.0,562.5h2.0v2.0h-2.0zM826.9,551.9h2.0v2.0h-2.0zM840.7,554.7h2.0v2.0h-2.0zM838.9,561.1h2.0v2.0h-2.0zM846.0,552.4h2.0v2.0h-2.0zM824.9,556.3h2.0v2.0h-2.0zM837.7,563.4h2.0v2.0h-2.0zM837.7,561.9h2.0v2.0h-2.0zM851.6,558.2h2.0v2.0h-2.0zM831.0,554.3h2.0v2.0h-2.0zM840.7,555.5h2.0v2.0h-2.0zM846.5,557.1h2.0v2.0h-2.0zM834.3,558.5h2.0v2.0h-2.0zM838.1,561.7h2.0v2.0h-2.0zM848.5,563.5h2.0v2.0h-2.0zM853.8,558.2h2.0v2.0h-2.0zM844.1,550.2h2.0v2.0h-2.0zM836.6,553.7h2.0v2.0h-2.0zM845.6,550.9h2.0v2.0h-2.0zM842.6,555.3h2.0v2.0h-2.0zM840.7,555.7h2.0v2.0h-2.0zM825.9,560.2h2.0v2.0h-2.0zM852.4,558.4h2.0v2.0h-2.0zM826.4,558.4h2.0v2.0h-2.0zM850.8,550.6h2.0v2.0h-2.0zM855.4,559.3h2.0v2.0h-2.0zM832.5,562.9h2.0v2.0h-2.0zM853.4,562.5h2.0v2.0h-2.0zM831.4,558.1h2.0v2.0h-2.0zM836.4,554.1h2.0v2.0h-2.0zM850.9,558.6h2.0v2.0h-2.0zM834.6,557.6h2.0v2.0h-2.0zM857.3,557.9h2.0v2.0h-2.0zM856.7,557.9h2.0v2.0h-2.0zM839.5,557.7h2.0v2.0h-2.0zM849.6,563.6h2.0v2.0h-2.0zM845.7,556.7h2.0v2.0h-2.0zM846.1,557.5h2.0v2.0h-2.0zM848.8,563.3h2.0v2.0h-2.0zM846.6,561.2h2.0v2.0h-2.0zM831.0,555.3h2.0v2.0h-2.0zM830.6,559.9h2.0v2.0h-2.0zM842.1,558.5h2.0v2.0h-2.0zM834.4,558.2h2.0v2.0h-2.0zM858.3,560.9h2.0v2.0h-2.0zM858.2,553.5h2.0v2.0h-2.0zM841.6,555.4h2.0v2.0h-2.0zM835.2,561.2h2.0v2.0h-2.0zM828.6,557.8h2.0v2.0h-2.0zM851.4,563.1h2.0v2.0h-2.0zM840.7,563.1h2.0v2.0h-2.0zM828.2,561.8h2.0v2.0h-2.0zM837.1,557.7h2.0v2.0h-2.0zM834.5,552.2h2.0v2.0h-2.0zM827.1,554.3h2.0v2.0h-2.0zM848.6,558.1h2.0v2.0h-2.0zM826.6,561.2h2.0v2.0h-2.0zM841.3,552.0h2.0v2.0h-2.0zM853.2,561.5h2.0v2.0h-2.0zM830.2,563.2h2.0v2.0h-2.0zM852.8,553.2h2.0v2.0h-2.0zM853.4,551.4h2.0v2.0h-2.0zM851.1,560.8h2.0v2.0h-2.0zM846.1,561.7h2.0v2.0h-2.0zM859.4,554.6h2.0v2.0h-2.0zM853.7,562.9h2.0v2.0h-2.0zM833.9,559.6h2.0v2.0h-2.0zM848.0,561.9h2.0v2.0h-2.0zM843.5,553.9h2.0v2.0h-2.0zM831.6,557.6h2.0v2.0h-2.0zM827.1,562.0h2.0v2.0h-2.0zM855.8,553.4h2.0v2.0h-2.0zM848.5,559.4h2.0v2.0h-2.0zM826.6,560.9h2.0v2.0h-2.0zM851.1,554.3h2.0v2.0h-2.0zM825.7,553.9h2.0v2.0h-2.0zM851.3,556.5h2.0v2.0h-2.0zM853.0,552.2h2.0v2.0h-2.0zM826.0,554.9h2.0v2.0h-2.0zM855.4,552.3h2.0v2.0h-2.0zM824.8,560.5h2.0v2.0h-2.0zM825.5,559.3h2.0v2.0h-2.0zM825.2,553.5h2.0v2.0h-2.0zM847.2,562.2h2.0v2.0h-2.0zM837.5,556.3h2.0v2.0h-2.0zM831.2,561.0h2.0v2.0h-2.0zM849.1,561.0h2.0v2.0h-2.0zM842.2,559.8h2.0v2.0h-2.0zM826.8,555.4h2.0v2.0h-2.0zM833.1,554.0h2.0v2.0h-2.0zM850.1,553.0h2.0v2.0h-2.0zM834.4,554.0h2.0v2.0h-2.0zM854.8,558.9h2.0v2.0h-2.0zM840.3,555.3h2.0v2.0h-2.0zM839.1,557.9h2.0v2.0h-2.0zM854.8,553.6h2.0v2.0h-2.0zM831.8,551.4h2.0v2.0h-2.0zM841.1,560.8h2.0v2.0h-2.0zM827.9,556.1h2.0v2.0h-2.0zM859.6,556.7h2.0v2.0h-2.0zM836.5,561.8h2.0v2.0h-2.0zM855.9,555.3h2.0v2.0h-2.0zM826.7,558.9h2.0v2.0h-2.0zM850.1,562.9h2.0v2.0h-2.0zM847.1,554.3h2.0v2.0h-2.0zM841.6,554.0h2.0v2.0h-2.0zM838.9,556.6h2.0v2.0h-2.0zM857.2,556.7h2.0v2.0h-2.0zM857.0,559.0h2.0v2.0h-2.0zM855.2,555.8h2.0v2.0h-2.0zM854.2,561.5h2.0v2.0h-2.0zM836.2,561.6h2.0v2.0h-2.0zM830.1,560.5h2.0v2.0h-2.0zM839.8,555.8h2.0v2.0h-2.0zM829.5,561.2h2.0v2.0h-2.0zM849.8,551.2h2.0v2.0h-2.0zM836.3,555.8h2.0v2.0h-2.0zM843.9,562.5h2.0v2.0h-2.0zM857.9,558.9h2.0v2.0h-2.0zM835.9,551.5h2.0v2.0h-2.0zM824.6,557.3h2.0v2.0h-2.0zM844.2,556.3h2.0v2.0h-2.0zM859.3,555.8h2.0v2.0h-2.0zM835.3,555.9h2.0v2.0h-2.0zM828.5,563.1h2.0v2.0h-2.0zM844.5,557.6h2.0v2.0h-2.0zM838.2,553.5h2.0v2.0h-2.0zM834.0,556.9h2.0v2.0h-2.0zM839.0,563.7h2.0v2.0h-2.0zM843.4,552.9h2.0v2.0h-2.0zM835.1,561.0h2.0v2.0h-2.0zM855.8,553.3h2.0v2.0h-2.0zM851.7,556.2h2.0v2.0h-2.0zM842.4,557.5h2.0v2.0h-2.0zM847.4,559.6h2.0v2.0h-2.0zM836.5,562.9h2.0v2.0h-2.0zM853.2,554.2h2.0v2.0h-2.0zM824.5,557.7h2.0v2.0h-2.0zM846.9,553.1h2.0v2.0h-2.0zM823.7,556.8h2.0v2.0h-2.0zM845.8,553.9h2.0v2.0h-2.0zM838.9,553.3h2.0v2.0h-2.0zM829.1,552.5h2.0v2.0h-2.0zM853.0,556.3h2.0v2.0h-2.0zM849.2,554.9h2.0v2.0h-2.0zM852.7,558.3h2.0v2.0h-2.0zM846.9,555.5h2.0v2.0h-2.0zM843.3,552.7h2.0v2.0h-2.0zM859.0,559.4h2.0v2.0h-2.0zM842.2,558.9h2.0v2.0h-2.0zM825.8,554.7h2.0v2.0h-2.0zM830.8,561.8h2.0v2.0h-2.0zM855.0,561.0h2.0v2.0h-2.0zM849.3,554.2h2.0v2.0h-2.0zM830.8,559.9h2.0v2.0h-2.0zM833.3,560.1h2.0v2.0h-2.0zM835.3,560.6h2.0v2.0h-2.0zM843.8,561.4h2.0v2.0h-2.0zM859.5,555.3h2.0v2.0h-2.0zM842.7,555.4h2.0v2.0h-2.0zM851.3,554.4h2.0v2.0h-2.0zM829.9,561.0h2.0v2.0h-2.0zM842.9,560.6h2.0v2.0h-2.0zM840.6,550.5h2.0v2.0h-2.0zM851.3,553.1h2.0v2.0h-2.0zM831.8,559.3h2.0v2.0h-2.0zM851.0,558.9h2.0v2.0h-2.0zM838.8,560.3h2.0v2.0h-2.0zM847.4,552.9h2.0v2.0h-2.0zM842.3,558.4h2.0v2.0h-2.0zM849.7,552.8h2.0v2.0h-2.0zM833.8,554.8h2.0v2.0h-2.0zM825.6,554.9h2.0v2.0h-2.0zM849.7,558.1h2.0v2.0h-2.0zM828.6,560.2h2.0v2.0h-2.0zM826.4,560.5h2.0v2.0h-2.0zM831.6,557.2h2.0v2.0h-2.0zM832.3,562.4h2.0v2.0h-2.0zM857.7,554.0h2.0v2.0h-2.0z" fill="#ff4f28"/><path d="M852.2,560.0h2.0v2.0h-2.0zM846.4,554.3h2.0v2.0h-2.0zM858.4,563.4h2.0v2.0h-2.0zM829.4,555.3h2.0v2.0h-2.0zM839.0,553.6h2.0v2.0h-2.0zM842.3,562.7h2.0v2.0h-2.0zM829.7,561.9h2.0v2.0h-2.0zM838.6,551.2h2.0v2.0h-2.0zM856.9,554.5h2.0v2.0h-2.0zM835.6,552.5h2.0v2.0h-2.0zM840.4,552.6h2.0v2.0h-2.0zM834.6,554.3h2.0v2.0h-2.0zM846.9,556.8h2.0v2.0h-2.0zM838.5,557.8h2.0v2.0h-2.0zM853.0,560.4h2.0v2.0h-2.0zM839.6,562.9h2.0v2.0h-2.0zM853.5,558.3h2.0v2.0h-2.0zM843.7,555.3h2.0v2.0h-2.0zM833.2,562.5h2.0v2.0h-2.0zM847.9,552.3h2.0v2.0h-2.0z" fill="#e5ce74"/><path d="M811.0,570.0h2.0v2.0h-2.0zM827.0,572.0h2.0v2.0h-2.0zM840.0,570.0h2.0v2.0h-2.0z" fill="#ff4f28"/><path d="M814.0,569.0h2.0v2.0h-2.0zM829.0,569.5h2.0v2.0h-2.0z" fill="#1996f3"/><path d="M817.0,568.0h2.0v2.0h-2.0z" fill="#e5ce74"/></svg><path d="M242,157.5V54H862V652.8H752.5" fill="none" stroke="#000" stroke-width="2" stroke-linejoin="miter"/><path d="M752.5,54V653.8M242,157.5H862" stroke="#000" stroke-width="3" fill="none"/><text x="219.70" y="52.00" font-size="10.2" fill="#000" font-family="Liberation Sans, sans-serif" textLength="10.60" lengthAdjust="spacingAndGlyphs">15</text><text x="219.70" y="87.00" font-size="10.2" fill="#000" font-family="Liberation Sans, sans-serif" textLength="10.60" lengthAdjust="spacingAndGlyphs">10</text><text x="220.50" y="122.00" font-size="10.2" fill="#000" font-family="Liberation Sans, sans-serif" textLength="5.30" lengthAdjust="spacingAndGlyphs">5</text><text x="220.30" y="157.00" font-size="10.2" fill="#000" font-family="Liberation Sans, sans-serif" textLength="5.90" lengthAdjust="spacingAndGlyphs">0</text><text x="186.70" y="105.00" font-size="12" fill="#000" font-family="Liberation Sans, sans-serif" textLength="18.00" lengthAdjust="spacingAndGlyphs">Km</text><text x="756.60" y="667.20" font-size="10" text-anchor="middle" fill="#000" font-family="Liberation Sans, sans-serif" textLength="6.36" lengthAdjust="spacingAndGlyphs">0</text><text x="792.60" y="667.20" font-size="10" text-anchor="middle" fill="#000" font-family="Liberation Sans, sans-serif" textLength="6.36" lengthAdjust="spacingAndGlyphs">5</text><text x="831.00" y="667.20" font-size="10" text-anchor="middle" fill="#000" font-family="Liberation Sans, sans-serif" textLength="12.72" lengthAdjust="spacingAndGlyphs">10</text><text x="868.00" y="667.20" font-size="10" text-anchor="middle" fill="#000" font-family="Liberation Sans, sans-serif" textLength="12.72" lengthAdjust="spacingAndGlyphs">15</text><text x="808.00" y="675.70" font-size="12" fill="#000" font-family="Liberation Sans, sans-serif" textLength="17.30" lengthAdjust="spacingAndGlyphs">Km</text><text x="772.50" y="83.70" font-size="10" text-anchor="middle" fill="#000" font-family="Liberation Sans, sans-serif" textLength="6.36" lengthAdjust="spacingAndGlyphs">6</text><text x="784.00" y="83.70" font-size="10" text-anchor="middle" fill="#000" font-family="Liberation Sans, sans-serif" textLength="3.37" lengthAdjust="spacingAndGlyphs">:</text><text x="815.70" y="83.70" font-size="10" text-anchor="middle" fill="#000" font-family="Liberation Sans, sans-serif" textLength="25.45" lengthAdjust="spacingAndGlyphs">5038</text><text x="772.50" y="93.70" font-size="10" text-anchor="middle" fill="#f00" font-family="Liberation Sans, sans-serif" textLength="6.36" lengthAdjust="spacingAndGlyphs">7</text><text x="784.00" y="93.70" font-size="10" text-anchor="middle" fill="#f00" font-family="Liberation Sans, sans-serif" textLength="3.37" lengthAdjust="spacingAndGlyphs">:</text><text x="815.70" y="93.70" font-size="10" text-anchor="middle" fill="#f00" font-family="Liberation Sans, sans-serif" textLength="25.45" lengthAdjust="spacingAndGlyphs">2411</text><text x="772.50" y="104.70" font-size="10" text-anchor="middle" fill="#000" font-family="Liberation Sans, sans-serif" textLength="6.36" lengthAdjust="spacingAndGlyphs">8</text><text x="784.00" y="104.70" font-size="10" text-anchor="middle" fill="#000" font-family="Liberation Sans, sans-serif" textLength="3.37" lengthAdjust="spacingAndGlyphs">:</text><text x="815.60" y="104.70" font-size="10" text-anchor="middle" fill="#000" font-family="Liberation Sans, sans-serif" textLength="19.09" lengthAdjust="spacingAndGlyphs">834</text><text x="772.50" y="114.70" font-size="10" text-anchor="middle" fill="#000" font-family="Liberation Sans, sans-serif" textLength="6.36" lengthAdjust="spacingAndGlyphs">9</text><text x="784.00" y="114.70" font-size="10" text-anchor="middle" fill="#000" font-family="Liberation Sans, sans-serif" textLength="3.37" lengthAdjust="spacingAndGlyphs">:</text><text x="815.60" y="114.70" font-size="10" text-anchor="middle" fill="#000" font-family="Liberation Sans, sans-serif" textLength="19.09" lengthAdjust="spacingAndGlyphs">103</text><text x="773.00" y="125.70" font-size="10" text-anchor="middle" fill="#000" font-family="Liberation Sans, sans-serif" textLength="12.72" lengthAdjust="spacingAndGlyphs">10</text><text x="787.40" y="125.70" font-size="10" text-anchor="middle" fill="#000" font-family="Liberation Sans, sans-serif" textLength="3.37" lengthAdjust="spacingAndGlyphs">:</text><text x="819.00" y="125.70" font-size="10" text-anchor="middle" fill="#000" font-family="Liberation Sans, sans-serif" textLength="6.36" lengthAdjust="spacingAndGlyphs">8</text><text x="773.00" y="135.70" font-size="10" text-anchor="middle" fill="#000" font-family="Liberation Sans, sans-serif" textLength="12.72" lengthAdjust="spacingAndGlyphs">11</text><text x="787.40" y="135.70" font-size="10" text-anchor="middle" fill="#000" font-family="Liberation Sans, sans-serif" textLength="3.37" lengthAdjust="spacingAndGlyphs">:</text><text x="819.00" y="135.70" font-size="10" text-anchor="middle" fill="#000" font-family="Liberation Sans, sans-serif" textLength="6.36" lengthAdjust="spacingAndGlyphs">0</text><text x="773.00" y="146.20" font-size="10" text-anchor="middle" fill="#000" font-family="Liberation Sans, sans-serif" textLength="12.72" lengthAdjust="spacingAndGlyphs">12</text><text x="787.40" y="146.20" font-size="10" text-anchor="middle" fill="#000" font-family="Liberation Sans, sans-serif" textLength="3.37" lengthAdjust="spacingAndGlyphs">:</text><text x="819.00" y="146.20" font-size="10" text-anchor="middle" fill="#000" font-family="Liberation Sans, sans-serif" textLength="6.36" lengthAdjust="spacingAndGlyphs">0</text><defs><linearGradient id="cb" x1="0" x2="1" y1="0" y2="0"><stop offset="0.000" stop-color="#8000ff"/><stop offset="0.025" stop-color="#7314ff"/><stop offset="0.050" stop-color="#6628fe"/><stop offset="0.075" stop-color="#593cfd"/><stop offset="0.100" stop-color="#4d4ffc"/><stop offset="0.125" stop-color="#4062fa"/><stop offset="0.150" stop-color="#3374f8"/><stop offset="0.175" stop-color="#2685f5"/><stop offset="0.200" stop-color="#1996f3"/><stop offset="0.225" stop-color="#0da6ef"/><stop offset="0.250" stop-color="#00b4ec"/><stop offset="0.275" stop-color="#0dc2e8"/><stop offset="0.300" stop-color="#19cee3"/><stop offset="0.325" stop-color="#26d9de"/><stop offset="0.350" stop-color="#33e3d9"/><stop offset="0.375" stop-color="#40ecd4"/><stop offset="0.400" stop-color="#4df3ce"/><stop offset="0.425" stop-color="#59f8c8"/><stop offset="0.450" stop-color="#66fcc2"/><stop offset="0.475" stop-color="#73febb"/><stop offset="0.500" stop-color="#80ffb4"/><stop offset="0.525" stop-color="#8cfead"/><stop offset="0.550" stop-color="#99fca6"/><stop offset="0.575" stop-color="#a6f89e"/><stop offset="0.600" stop-color="#b3f396"/><stop offset="0.625" stop-color="#bfec8e"/><stop offset="0.650" stop-color="#cce385"/><stop offset="0.675" stop-color="#d9d97d"/><stop offset="0.700" stop-color="#e5ce74"/><stop offset="0.725" stop-color="#f2c26b"/><stop offset="0.750" stop-color="#ffb462"/><stop offset="0.775" stop-color="#ffa658"/><stop offset="0.800" stop-color="#ff964f"/><stop offset="0.825" stop-color="#ff8545"/><stop offset="0.850" stop-color="#ff743c"/><stop offset="0.875" stop-color="#ff6232"/><stop offset="0.900" stop-color="#ff4f28"/><stop offset="0.925" stop-color="#ff3c1e"/><stop offset="0.950" stop-color="#ff2814"/><stop offset="0.975" stop-color="#ff140a"/><stop offset="1.000" stop-color="#ff0000"/></linearGradient></defs><rect x="158.5" y="690.5" width="787" height="38" fill="url(#cb)" stroke="#000" stroke-width="1"/><text x="158.50" y="742.80" font-size="10" text-anchor="middle" fill="#000" font-family="Liberation Sans, sans-serif" textLength="6.36" lengthAdjust="spacingAndGlyphs">0</text><text x="315.90" y="742.80" font-size="10" text-anchor="middle" fill="#000" font-family="Liberation Sans, sans-serif" textLength="6.36" lengthAdjust="spacingAndGlyphs">2</text><text x="473.30" y="742.80" font-size="10" text-anchor="middle" fill="#000" font-family="Liberation Sans, sans-serif" textLength="6.36" lengthAdjust="spacingAndGlyphs">4</text><text x="630.70" y="742.80" font-size="10" text-anchor="middle" fill="#000" font-family="Liberation Sans, sans-serif" textLength="6.36" lengthAdjust="spacingAndGlyphs">6</text><text x="788.10" y="742.80" font-size="10" text-anchor="middle" fill="#000" font-family="Liberation Sans, sans-serif" textLength="6.36" lengthAdjust="spacingAndGlyphs">8</text><text x="945.50" y="742.80" font-size="10" text-anchor="middle" fill="#000" font-family="Liberation Sans, sans-serif" textLength="12.72" lengthAdjust="spacingAndGlyphs">10</text><path d="M158.5,728.5V732.5M315.9,728.5V732.5M473.3,728.5V732.5M630.7,728.5V732.5M788.1,728.5V732.5M945.5,728.5V732.5" stroke="#000" stroke-width="1"/><text x="434.18" y="719.00" font-size="19.5" fill="#000" stroke="#000" stroke-width="0.25" font-family="Liberation Sans, sans-serif" textLength="41.74" lengthAdjust="spacingAndGlyphs">from</text><text x="484.98" y="719.00" font-size="19.5" fill="#000" stroke="#000" stroke-width="0.25" font-family="Liberation Sans, sans-serif" textLength="80.63" lengthAdjust="spacingAndGlyphs">13:50:00</text><text x="573.48" y="719.00" font-size="19.5" fill="#000" stroke="#000" stroke-width="0.25" font-family="Liberation Sans, sans-serif" textLength="17.54" lengthAdjust="spacingAndGlyphs">to</text><text x="599.48" y="719.00" font-size="19.5" fill="#000" stroke="#000" stroke-width="0.25" font-family="Liberation Sans, sans-serif" textLength="81.33" lengthAdjust="spacingAndGlyphs">13:59:59</text></svg></body></html>
